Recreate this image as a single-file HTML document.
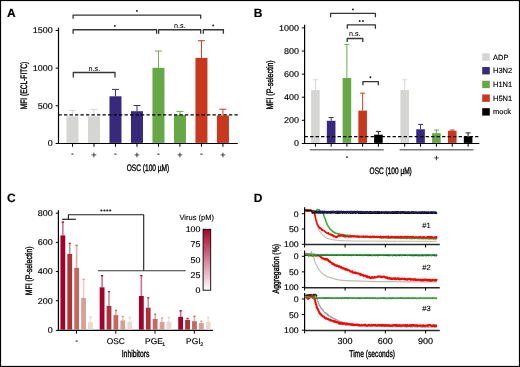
<!DOCTYPE html>
<html><head><meta charset="utf-8"><style>html,body{margin:0;padding:0;background:#fff;}svg{display:block;-webkit-font-smoothing:antialiased;will-change:transform;}text{font-family:"Liberation Sans", sans-serif;text-rendering:geometricPrecision;}</style></head><body>
<svg width="520" height="367" viewBox="0 0 520 367" font-family='"Liberation Sans", sans-serif'>
<defs><linearGradient id="vg" x1="0" y1="0" x2="0" y2="1"><stop offset="0" stop-color="#a8002d"/><stop offset="1" stop-color="#ffffff"/></linearGradient></defs>
<rect x="0" y="0" width="520" height="367" fill="#fff"/>
<text x="6.90" y="17.00" font-size="12.0" text-anchor="start" fill="#000" stroke="#000" stroke-width="0.15" font-weight="bold" >A</text>
<text x="253.70" y="17.00" font-size="12.0" text-anchor="start" fill="#000" stroke="#000" stroke-width="0.15" font-weight="bold" >B</text>
<text x="7.00" y="202.20" font-size="12.0" text-anchor="start" fill="#000" stroke="#000" stroke-width="0.15" font-weight="bold" >C</text>
<text x="253.80" y="202.20" font-size="12.0" text-anchor="start" fill="#000" stroke="#000" stroke-width="0.15" font-weight="bold" >D</text>
<line x1="58.50" y1="27.60" x2="58.50" y2="143.90" stroke="#000" stroke-width="1.2" />
<line x1="57.90" y1="143.50" x2="237.80" y2="143.50" stroke="#000" stroke-width="1.2" />
<line x1="55.60" y1="143.50" x2="58.50" y2="143.50" stroke="#000" stroke-width="1" />
<text x="52.70" y="146.40" font-size="8.4" text-anchor="end" fill="#000" stroke="#000" stroke-width="0.15" textLength="5.0" lengthAdjust="spacingAndGlyphs" >0</text>
<line x1="55.60" y1="105.77" x2="58.50" y2="105.77" stroke="#000" stroke-width="1" />
<text x="52.70" y="108.67" font-size="8.4" text-anchor="end" fill="#000" stroke="#000" stroke-width="0.15" textLength="14.99" lengthAdjust="spacingAndGlyphs" >500</text>
<line x1="55.60" y1="68.13" x2="58.50" y2="68.13" stroke="#000" stroke-width="1" />
<text x="52.70" y="71.03" font-size="8.4" text-anchor="end" fill="#000" stroke="#000" stroke-width="0.15" textLength="19.99" lengthAdjust="spacingAndGlyphs" >1000</text>
<line x1="55.60" y1="30.50" x2="58.50" y2="30.50" stroke="#000" stroke-width="1" />
<text x="52.70" y="33.40" font-size="8.4" text-anchor="end" fill="#000" stroke="#000" stroke-width="0.15" textLength="19.99" lengthAdjust="spacingAndGlyphs" >1500</text>
<line x1="72.50" y1="116.40" x2="72.50" y2="110.40" stroke="#d6d6d4" stroke-width="1" />
<line x1="69.00" y1="110.40" x2="76.00" y2="110.40" stroke="#d6d6d4" stroke-width="1" />
<rect x="66.50" y="116.40" width="12.00" height="26.50" fill="#d5d5d3"/>
<line x1="72.50" y1="143.50" x2="72.50" y2="146.80" stroke="#000" stroke-width="1" />
<text x="72.50" y="156.10" font-size="7.2" text-anchor="middle" fill="#000" stroke="#000" stroke-width="0.25" >-</text>
<line x1="93.99" y1="116.40" x2="93.99" y2="109.40" stroke="#d6d6d4" stroke-width="1" />
<line x1="90.49" y1="109.40" x2="97.49" y2="109.40" stroke="#d6d6d4" stroke-width="1" />
<rect x="87.99" y="116.40" width="12.00" height="26.50" fill="#d5d5d3"/>
<line x1="93.99" y1="143.50" x2="93.99" y2="146.80" stroke="#000" stroke-width="1" />
<text x="94.04" y="157.70" font-size="9.2" text-anchor="middle" fill="#000" stroke="#000" stroke-width="0.1" >+</text>
<line x1="115.48" y1="96.30" x2="115.48" y2="89.40" stroke="#3a2c82" stroke-width="1" />
<line x1="111.98" y1="89.40" x2="118.98" y2="89.40" stroke="#3a2c82" stroke-width="1" />
<rect x="109.48" y="96.30" width="12.00" height="46.60" fill="#38297c"/>
<line x1="115.48" y1="143.50" x2="115.48" y2="146.80" stroke="#000" stroke-width="1" />
<text x="115.48" y="156.10" font-size="7.2" text-anchor="middle" fill="#000" stroke="#000" stroke-width="0.25" >-</text>
<line x1="136.97" y1="111.20" x2="136.97" y2="105.50" stroke="#3a2c82" stroke-width="1" />
<line x1="133.47" y1="105.50" x2="140.47" y2="105.50" stroke="#3a2c82" stroke-width="1" />
<rect x="130.97" y="111.20" width="12.00" height="31.70" fill="#38297c"/>
<line x1="136.97" y1="143.50" x2="136.97" y2="146.80" stroke="#000" stroke-width="1" />
<text x="137.02" y="157.70" font-size="9.2" text-anchor="middle" fill="#000" stroke="#000" stroke-width="0.1" >+</text>
<line x1="158.46" y1="67.80" x2="158.46" y2="51.00" stroke="#6cad4e" stroke-width="1" />
<line x1="154.96" y1="51.00" x2="161.96" y2="51.00" stroke="#6cad4e" stroke-width="1" />
<rect x="152.46" y="67.80" width="12.00" height="75.10" fill="#66a746"/>
<line x1="158.46" y1="143.50" x2="158.46" y2="146.80" stroke="#000" stroke-width="1" />
<text x="158.46" y="156.10" font-size="7.2" text-anchor="middle" fill="#000" stroke="#000" stroke-width="0.25" >-</text>
<line x1="179.95" y1="115.00" x2="179.95" y2="111.40" stroke="#6cad4e" stroke-width="1" />
<line x1="176.45" y1="111.40" x2="183.45" y2="111.40" stroke="#6cad4e" stroke-width="1" />
<rect x="173.95" y="115.00" width="12.00" height="27.90" fill="#66a746"/>
<line x1="179.95" y1="143.50" x2="179.95" y2="146.80" stroke="#000" stroke-width="1" />
<text x="180.00" y="157.70" font-size="9.2" text-anchor="middle" fill="#000" stroke="#000" stroke-width="0.1" >+</text>
<line x1="201.44" y1="57.90" x2="201.44" y2="40.70" stroke="#cc3c22" stroke-width="1" />
<line x1="197.94" y1="40.70" x2="204.94" y2="40.70" stroke="#cc3c22" stroke-width="1" />
<rect x="195.44" y="57.90" width="12.00" height="85.00" fill="#c9381d"/>
<line x1="201.44" y1="143.50" x2="201.44" y2="146.80" stroke="#000" stroke-width="1" />
<text x="201.44" y="156.10" font-size="7.2" text-anchor="middle" fill="#000" stroke="#000" stroke-width="0.25" >-</text>
<line x1="222.93" y1="115.50" x2="222.93" y2="109.20" stroke="#cc3c22" stroke-width="1" />
<line x1="219.43" y1="109.20" x2="226.43" y2="109.20" stroke="#cc3c22" stroke-width="1" />
<rect x="216.93" y="115.50" width="12.00" height="27.40" fill="#c9381d"/>
<line x1="222.93" y1="143.50" x2="222.93" y2="146.80" stroke="#000" stroke-width="1" />
<text x="222.98" y="157.70" font-size="9.2" text-anchor="middle" fill="#000" stroke="#000" stroke-width="0.1" >+</text>
<line x1="58.50" y1="114.80" x2="237.80" y2="114.80" stroke="#000" stroke-width="1.2" stroke-dasharray="3.3 2.2"/>
<text x="148.00" y="170.70" font-size="9.4" text-anchor="middle" fill="#000" stroke="#000" stroke-width="0.38" textLength="42.6" lengthAdjust="spacingAndGlyphs" >OSC (100 µM)</text>
<text x="26.90" y="85.45" font-size="9.4" text-anchor="middle" fill="#000" stroke="#000" stroke-width="0.38" textLength="47.5" lengthAdjust="spacingAndGlyphs" transform="rotate(-90 26.90 85.45)" >MFI (ECL-FITC)</text>
<polyline points="73.30,77.50 73.30,72.50 115.00,72.50 115.00,77.50" fill="none" stroke="#353535" stroke-width="1.3" stroke-linejoin="round" />
<text x="94.40" y="70.90" font-size="7.2" text-anchor="middle" fill="#000" stroke="#000" stroke-width="0.05" >n.s.</text>
<polyline points="73.10,18.80 73.10,15.20 200.70,15.20 200.70,18.80" fill="none" stroke="#353535" stroke-width="1.3" stroke-linejoin="round" />
<circle cx="136.90" cy="10.90" r="0.95" fill="#1a1a1a"/>
<polyline points="73.10,33.65 73.10,29.75 156.60,29.75 156.60,33.65" fill="none" stroke="#353535" stroke-width="1.3" stroke-linejoin="round" />
<circle cx="114.80" cy="25.90" r="0.95" fill="#1a1a1a"/>
<polyline points="158.60,33.65 158.60,29.75 200.70,29.75 200.70,33.65" fill="none" stroke="#353535" stroke-width="1.3" stroke-linejoin="round" />
<text x="179.80" y="27.60" font-size="7.2" text-anchor="middle" fill="#000" stroke="#000" stroke-width="0.05" >n.s.</text>
<polyline points="203.30,33.65 203.30,29.75 223.40,29.75 223.40,33.65" fill="none" stroke="#353535" stroke-width="1.3" stroke-linejoin="round" />
<circle cx="213.20" cy="25.40" r="0.95" fill="#1a1a1a"/>
<line x1="304.60" y1="24.80" x2="304.60" y2="143.90" stroke="#000" stroke-width="1.2" />
<line x1="304.00" y1="143.50" x2="479.30" y2="143.50" stroke="#000" stroke-width="1.2" />
<line x1="301.80" y1="143.50" x2="304.60" y2="143.50" stroke="#000" stroke-width="1" />
<text x="299.00" y="146.40" font-size="8.4" text-anchor="end" fill="#000" stroke="#000" stroke-width="0.15" textLength="5.0" lengthAdjust="spacingAndGlyphs" >0</text>
<line x1="301.80" y1="120.30" x2="304.60" y2="120.30" stroke="#000" stroke-width="1" />
<text x="299.00" y="123.20" font-size="8.4" text-anchor="end" fill="#000" stroke="#000" stroke-width="0.15" textLength="14.99" lengthAdjust="spacingAndGlyphs" >200</text>
<line x1="301.80" y1="97.20" x2="304.60" y2="97.20" stroke="#000" stroke-width="1" />
<text x="299.00" y="100.10" font-size="8.4" text-anchor="end" fill="#000" stroke="#000" stroke-width="0.15" textLength="14.99" lengthAdjust="spacingAndGlyphs" >400</text>
<line x1="301.80" y1="74.10" x2="304.60" y2="74.10" stroke="#000" stroke-width="1" />
<text x="299.00" y="77.00" font-size="8.4" text-anchor="end" fill="#000" stroke="#000" stroke-width="0.15" textLength="14.99" lengthAdjust="spacingAndGlyphs" >600</text>
<line x1="301.80" y1="51.00" x2="304.60" y2="51.00" stroke="#000" stroke-width="1" />
<text x="299.00" y="53.90" font-size="8.4" text-anchor="end" fill="#000" stroke="#000" stroke-width="0.15" textLength="14.99" lengthAdjust="spacingAndGlyphs" >800</text>
<line x1="301.80" y1="27.90" x2="304.60" y2="27.90" stroke="#000" stroke-width="1" />
<text x="299.00" y="30.80" font-size="8.4" text-anchor="end" fill="#000" stroke="#000" stroke-width="0.15" textLength="19.99" lengthAdjust="spacingAndGlyphs" >1000</text>
<line x1="315.40" y1="90.20" x2="315.40" y2="79.80" stroke="#d6d6d4" stroke-width="1" />
<line x1="312.90" y1="79.80" x2="317.90" y2="79.80" stroke="#d6d6d4" stroke-width="1" />
<rect x="311.10" y="90.20" width="8.60" height="52.70" fill="#d5d5d3"/>
<line x1="315.40" y1="143.50" x2="315.40" y2="146.70" stroke="#000" stroke-width="1" />
<line x1="331.15" y1="120.80" x2="331.15" y2="117.50" stroke="#3a2c82" stroke-width="1" />
<line x1="328.65" y1="117.50" x2="333.65" y2="117.50" stroke="#3a2c82" stroke-width="1" />
<rect x="326.85" y="120.80" width="8.60" height="22.10" fill="#38297c"/>
<line x1="331.15" y1="143.50" x2="331.15" y2="146.70" stroke="#000" stroke-width="1" />
<line x1="346.90" y1="78.00" x2="346.90" y2="44.40" stroke="#6cad4e" stroke-width="1" />
<line x1="344.40" y1="44.40" x2="349.40" y2="44.40" stroke="#6cad4e" stroke-width="1" />
<rect x="342.60" y="78.00" width="8.60" height="64.90" fill="#66a746"/>
<line x1="346.90" y1="143.50" x2="346.90" y2="146.70" stroke="#000" stroke-width="1" />
<line x1="362.65" y1="110.60" x2="362.65" y2="93.20" stroke="#cc3c22" stroke-width="1" />
<line x1="360.15" y1="93.20" x2="365.15" y2="93.20" stroke="#cc3c22" stroke-width="1" />
<rect x="358.35" y="110.60" width="8.60" height="32.30" fill="#c9381d"/>
<line x1="362.65" y1="143.50" x2="362.65" y2="146.70" stroke="#000" stroke-width="1" />
<line x1="378.40" y1="134.70" x2="378.40" y2="131.40" stroke="#222" stroke-width="1" />
<line x1="375.90" y1="131.40" x2="380.90" y2="131.40" stroke="#222" stroke-width="1" />
<rect x="374.10" y="134.70" width="8.60" height="8.20" fill="#000"/>
<line x1="378.40" y1="143.50" x2="378.40" y2="146.70" stroke="#000" stroke-width="1" />
<line x1="404.70" y1="90.10" x2="404.70" y2="79.80" stroke="#d6d6d4" stroke-width="1" />
<line x1="402.20" y1="79.80" x2="407.20" y2="79.80" stroke="#d6d6d4" stroke-width="1" />
<rect x="400.40" y="90.10" width="8.60" height="52.80" fill="#d5d5d3"/>
<line x1="404.70" y1="143.50" x2="404.70" y2="146.70" stroke="#000" stroke-width="1" />
<line x1="420.55" y1="129.30" x2="420.55" y2="124.40" stroke="#3a2c82" stroke-width="1" />
<line x1="418.05" y1="124.40" x2="423.05" y2="124.40" stroke="#3a2c82" stroke-width="1" />
<rect x="416.25" y="129.30" width="8.60" height="13.60" fill="#38297c"/>
<line x1="420.55" y1="143.50" x2="420.55" y2="146.70" stroke="#000" stroke-width="1" />
<line x1="436.40" y1="133.20" x2="436.40" y2="130.00" stroke="#6cad4e" stroke-width="1" />
<line x1="433.90" y1="130.00" x2="438.90" y2="130.00" stroke="#6cad4e" stroke-width="1" />
<rect x="432.10" y="133.20" width="8.60" height="9.70" fill="#66a746"/>
<line x1="436.40" y1="143.50" x2="436.40" y2="146.70" stroke="#000" stroke-width="1" />
<line x1="452.25" y1="130.80" x2="452.25" y2="130.00" stroke="#cc3c22" stroke-width="1" />
<line x1="449.75" y1="130.00" x2="454.75" y2="130.00" stroke="#cc3c22" stroke-width="1" />
<rect x="447.95" y="130.80" width="8.60" height="12.10" fill="#c9381d"/>
<line x1="452.25" y1="143.50" x2="452.25" y2="146.70" stroke="#000" stroke-width="1" />
<line x1="468.10" y1="136.40" x2="468.10" y2="132.90" stroke="#222" stroke-width="1" />
<line x1="465.60" y1="132.90" x2="470.60" y2="132.90" stroke="#222" stroke-width="1" />
<rect x="463.80" y="136.40" width="8.60" height="6.50" fill="#000"/>
<line x1="468.10" y1="143.50" x2="468.10" y2="146.70" stroke="#000" stroke-width="1" />
<line x1="304.60" y1="136.60" x2="479.30" y2="136.60" stroke="#000" stroke-width="1.2" stroke-dasharray="3.3 2.2"/>
<line x1="309.80" y1="149.70" x2="383.80" y2="149.70" stroke="#7a7a7a" stroke-width="1.6" />
<line x1="399.60" y1="149.70" x2="473.50" y2="149.70" stroke="#7a7a7a" stroke-width="1.6" />
<text x="346.90" y="159.40" font-size="7.2" text-anchor="middle" fill="#000" stroke="#000" stroke-width="0.25" >-</text>
<text x="436.40" y="160.90" font-size="9.2" text-anchor="middle" fill="#000" stroke="#000" stroke-width="0.1" >+</text>
<text x="390.70" y="173.70" font-size="9.4" text-anchor="middle" fill="#000" stroke="#000" stroke-width="0.38" textLength="42.2" lengthAdjust="spacingAndGlyphs" >OSC (100 µM)</text>
<text x="273.50" y="84.95" font-size="9.4" text-anchor="middle" fill="#000" stroke="#000" stroke-width="0.38" textLength="49.3" lengthAdjust="spacingAndGlyphs" transform="rotate(-90 273.50 84.95)" >MFI (P-selectin)</text>
<polyline points="330.60,17.30 330.60,13.40 375.40,13.40 375.40,17.30" fill="none" stroke="#353535" stroke-width="1.3" stroke-linejoin="round" />
<circle cx="352.90" cy="9.40" r="0.95" fill="#1a1a1a"/>
<polyline points="347.30,28.70 347.30,24.90 375.40,24.90 375.40,28.70" fill="none" stroke="#353535" stroke-width="1.3" stroke-linejoin="round" />
<circle cx="359.70" cy="21.00" r="0.95" fill="#1a1a1a"/>
<circle cx="362.90" cy="21.00" r="0.95" fill="#1a1a1a"/>
<polyline points="347.20,42.00 347.20,38.50 362.80,38.50 362.80,42.00" fill="none" stroke="#353535" stroke-width="1.3" stroke-linejoin="round" />
<text x="354.70" y="36.40" font-size="7.2" text-anchor="middle" fill="#000" stroke="#000" stroke-width="0.05" >n.s.</text>
<polyline points="362.90,85.30 362.90,81.60 378.30,81.60 378.30,85.30" fill="none" stroke="#353535" stroke-width="1.3" stroke-linejoin="round" />
<circle cx="370.40" cy="77.20" r="0.95" fill="#1a1a1a"/>
<rect x="482.20" y="53.30" width="7.60" height="7.40" fill="#d5d5d3"/>
<text x="493.00" y="59.50" font-size="7.5" text-anchor="start" fill="#000" stroke="#000" stroke-width="0.15" >ADP</text>
<rect x="482.20" y="67.02" width="7.60" height="7.40" fill="#38297c"/>
<text x="493.00" y="73.22" font-size="7.5" text-anchor="start" fill="#000" stroke="#000" stroke-width="0.15" >H3N2</text>
<rect x="482.20" y="80.74" width="7.60" height="7.40" fill="#66a746"/>
<text x="493.00" y="86.94" font-size="7.5" text-anchor="start" fill="#000" stroke="#000" stroke-width="0.15" >H1N1</text>
<rect x="482.20" y="94.46" width="7.60" height="7.40" fill="#c9381d"/>
<text x="493.00" y="100.66" font-size="7.5" text-anchor="start" fill="#000" stroke="#000" stroke-width="0.15" >H5N1</text>
<rect x="482.20" y="108.18" width="7.60" height="7.40" fill="#000"/>
<text x="493.00" y="114.38" font-size="7.5" text-anchor="start" fill="#000" stroke="#000" stroke-width="0.15" >mock</text>
<line x1="58.40" y1="210.30" x2="58.40" y2="330.60" stroke="#000" stroke-width="1.2" />
<line x1="57.80" y1="330.45" x2="212.90" y2="330.45" stroke="#000" stroke-width="1.2" />
<line x1="55.80" y1="330.45" x2="58.40" y2="330.45" stroke="#000" stroke-width="1" />
<text x="52.70" y="333.35" font-size="8.4" text-anchor="end" fill="#000" stroke="#000" stroke-width="0.15" textLength="5.0" lengthAdjust="spacingAndGlyphs" >0</text>
<line x1="55.80" y1="300.72" x2="58.40" y2="300.72" stroke="#000" stroke-width="1" />
<text x="52.70" y="303.62" font-size="8.4" text-anchor="end" fill="#000" stroke="#000" stroke-width="0.15" textLength="14.99" lengthAdjust="spacingAndGlyphs" >200</text>
<line x1="55.80" y1="271.55" x2="58.40" y2="271.55" stroke="#000" stroke-width="1" />
<text x="52.70" y="274.45" font-size="8.4" text-anchor="end" fill="#000" stroke="#000" stroke-width="0.15" textLength="14.99" lengthAdjust="spacingAndGlyphs" >400</text>
<line x1="55.80" y1="242.37" x2="58.40" y2="242.37" stroke="#000" stroke-width="1" />
<text x="52.70" y="245.27" font-size="8.4" text-anchor="end" fill="#000" stroke="#000" stroke-width="0.15" textLength="14.99" lengthAdjust="spacingAndGlyphs" >600</text>
<line x1="55.80" y1="213.20" x2="58.40" y2="213.20" stroke="#000" stroke-width="1" />
<text x="52.70" y="216.10" font-size="8.4" text-anchor="end" fill="#000" stroke="#000" stroke-width="0.15" textLength="14.99" lengthAdjust="spacingAndGlyphs" >800</text>
<line x1="62.85" y1="235.40" x2="62.85" y2="222.10" stroke="#a3002a" stroke-width="1.6" stroke-opacity="0.55"/>
<line x1="61.75" y1="222.10" x2="63.95" y2="222.10" stroke="#a3002a" stroke-width="1.3" />
<rect x="60.45" y="235.40" width="4.80" height="94.30" fill="#a3002a"/>
<line x1="69.75" y1="253.90" x2="69.75" y2="243.30" stroke="#ab3338" stroke-width="1.6" stroke-opacity="0.55"/>
<line x1="68.65" y1="243.30" x2="70.85" y2="243.30" stroke="#ab3338" stroke-width="1.3" />
<rect x="67.35" y="253.90" width="4.80" height="75.80" fill="#ab3338"/>
<line x1="76.65" y1="267.80" x2="76.65" y2="245.30" stroke="#c06a62" stroke-width="1.6" stroke-opacity="0.55"/>
<line x1="75.55" y1="245.30" x2="77.75" y2="245.30" stroke="#c06a62" stroke-width="1.3" />
<rect x="74.25" y="267.80" width="4.80" height="61.90" fill="#c06a62"/>
<line x1="83.55" y1="298.00" x2="83.55" y2="279.30" stroke="#d5a096" stroke-width="1.6" stroke-opacity="0.55"/>
<line x1="82.45" y1="279.30" x2="84.65" y2="279.30" stroke="#d5a096" stroke-width="1.3" />
<rect x="81.15" y="298.00" width="4.80" height="31.70" fill="#d5a096"/>
<line x1="90.45" y1="322.20" x2="90.45" y2="317.20" stroke="#e6ccc5" stroke-width="1.6" stroke-opacity="0.55"/>
<line x1="89.35" y1="317.20" x2="91.55" y2="317.20" stroke="#e6ccc5" stroke-width="1.3" />
<rect x="88.05" y="322.20" width="4.80" height="7.50" fill="#ecd8d2"/>
<line x1="76.50" y1="330.45" x2="76.50" y2="333.60" stroke="#000" stroke-width="1" />
<line x1="102.10" y1="287.30" x2="102.10" y2="275.70" stroke="#a3002a" stroke-width="1.6" stroke-opacity="0.55"/>
<line x1="101.00" y1="275.70" x2="103.20" y2="275.70" stroke="#a3002a" stroke-width="1.3" />
<rect x="99.70" y="287.30" width="4.80" height="42.40" fill="#a3002a"/>
<line x1="109.00" y1="305.90" x2="109.00" y2="291.60" stroke="#ab3338" stroke-width="1.6" stroke-opacity="0.55"/>
<line x1="107.90" y1="291.60" x2="110.10" y2="291.60" stroke="#ab3338" stroke-width="1.3" />
<rect x="106.60" y="305.90" width="4.80" height="23.80" fill="#ab3338"/>
<line x1="115.90" y1="315.10" x2="115.90" y2="310.40" stroke="#c06a62" stroke-width="1.6" stroke-opacity="0.55"/>
<line x1="114.80" y1="310.40" x2="117.00" y2="310.40" stroke="#c06a62" stroke-width="1.3" />
<rect x="113.50" y="315.10" width="4.80" height="14.60" fill="#c06a62"/>
<line x1="122.80" y1="320.40" x2="122.80" y2="316.40" stroke="#d5a096" stroke-width="1.6" stroke-opacity="0.55"/>
<line x1="121.70" y1="316.40" x2="123.90" y2="316.40" stroke="#d5a096" stroke-width="1.3" />
<rect x="120.40" y="320.40" width="4.80" height="9.30" fill="#d5a096"/>
<line x1="129.70" y1="321.90" x2="129.70" y2="317.40" stroke="#e6ccc5" stroke-width="1.6" stroke-opacity="0.55"/>
<line x1="128.60" y1="317.40" x2="130.80" y2="317.40" stroke="#e6ccc5" stroke-width="1.3" />
<rect x="127.30" y="321.90" width="4.80" height="7.80" fill="#ecd8d2"/>
<line x1="115.75" y1="330.45" x2="115.75" y2="333.60" stroke="#000" stroke-width="1" />
<line x1="141.35" y1="296.00" x2="141.35" y2="275.70" stroke="#a3002a" stroke-width="1.6" stroke-opacity="0.55"/>
<line x1="140.25" y1="275.70" x2="142.45" y2="275.70" stroke="#a3002a" stroke-width="1.3" />
<rect x="138.95" y="296.00" width="4.80" height="33.70" fill="#a3002a"/>
<line x1="148.25" y1="307.70" x2="148.25" y2="297.80" stroke="#ab3338" stroke-width="1.6" stroke-opacity="0.55"/>
<line x1="147.15" y1="297.80" x2="149.35" y2="297.80" stroke="#ab3338" stroke-width="1.3" />
<rect x="145.85" y="307.70" width="4.80" height="22.00" fill="#ab3338"/>
<line x1="155.15" y1="319.00" x2="155.15" y2="314.20" stroke="#c06a62" stroke-width="1.6" stroke-opacity="0.55"/>
<line x1="154.05" y1="314.20" x2="156.25" y2="314.20" stroke="#c06a62" stroke-width="1.3" />
<rect x="152.75" y="319.00" width="4.80" height="10.70" fill="#c06a62"/>
<line x1="162.05" y1="321.90" x2="162.05" y2="318.10" stroke="#d5a096" stroke-width="1.6" stroke-opacity="0.55"/>
<line x1="160.95" y1="318.10" x2="163.15" y2="318.10" stroke="#d5a096" stroke-width="1.3" />
<rect x="159.65" y="321.90" width="4.80" height="7.80" fill="#d5a096"/>
<line x1="168.95" y1="321.90" x2="168.95" y2="317.40" stroke="#e6ccc5" stroke-width="1.6" stroke-opacity="0.55"/>
<line x1="167.85" y1="317.40" x2="170.05" y2="317.40" stroke="#e6ccc5" stroke-width="1.3" />
<rect x="166.55" y="321.90" width="4.80" height="7.80" fill="#ecd8d2"/>
<line x1="155.00" y1="330.45" x2="155.00" y2="333.60" stroke="#000" stroke-width="1" />
<line x1="180.65" y1="316.80" x2="180.65" y2="310.80" stroke="#a3002a" stroke-width="1.6" stroke-opacity="0.55"/>
<line x1="179.55" y1="310.80" x2="181.75" y2="310.80" stroke="#a3002a" stroke-width="1.3" />
<rect x="178.25" y="316.80" width="4.80" height="12.90" fill="#a3002a"/>
<line x1="187.55" y1="319.90" x2="187.55" y2="318.40" stroke="#ab3338" stroke-width="1.6" stroke-opacity="0.55"/>
<line x1="186.45" y1="318.40" x2="188.65" y2="318.40" stroke="#ab3338" stroke-width="1.3" />
<rect x="185.15" y="319.90" width="4.80" height="9.80" fill="#ab3338"/>
<line x1="194.45" y1="321.20" x2="194.45" y2="316.30" stroke="#c06a62" stroke-width="1.6" stroke-opacity="0.55"/>
<line x1="193.35" y1="316.30" x2="195.55" y2="316.30" stroke="#c06a62" stroke-width="1.3" />
<rect x="192.05" y="321.20" width="4.80" height="8.50" fill="#c06a62"/>
<line x1="201.35" y1="323.00" x2="201.35" y2="321.20" stroke="#d5a096" stroke-width="1.6" stroke-opacity="0.55"/>
<line x1="200.25" y1="321.20" x2="202.45" y2="321.20" stroke="#d5a096" stroke-width="1.3" />
<rect x="198.95" y="323.00" width="4.80" height="6.70" fill="#d5a096"/>
<line x1="208.25" y1="322.00" x2="208.25" y2="317.30" stroke="#e6ccc5" stroke-width="1.6" stroke-opacity="0.55"/>
<line x1="207.15" y1="317.30" x2="209.35" y2="317.30" stroke="#e6ccc5" stroke-width="1.3" />
<rect x="205.85" y="322.00" width="4.80" height="7.70" fill="#ecd8d2"/>
<line x1="194.30" y1="330.45" x2="194.30" y2="333.60" stroke="#000" stroke-width="1" />
<text x="76.60" y="343.20" font-size="7.2" text-anchor="middle" fill="#000" stroke="#000" stroke-width="0.25" >-</text>
<text x="115.75" y="344.00" font-size="8.4" text-anchor="middle" fill="#000" stroke="#000" stroke-width="0.15" >OSC</text>
<text x="153.90" y="344.00" font-size="8.4" text-anchor="middle" fill="#000" stroke="#000" stroke-width="0.15" >PGE</text>
<text x="163.60" y="345.70" font-size="5.2" text-anchor="middle" fill="#000" stroke="#000" stroke-width="0.15" >1</text>
<text x="193.30" y="344.00" font-size="8.4" text-anchor="middle" fill="#000" stroke="#000" stroke-width="0.15" >PGI</text>
<text x="201.60" y="345.60" font-size="5.2" text-anchor="middle" fill="#000" stroke="#000" stroke-width="0.15" >2</text>
<text x="135.60" y="357.30" font-size="9.8" text-anchor="middle" fill="#000" stroke="#000" stroke-width="0.38" textLength="27.8" lengthAdjust="spacingAndGlyphs" >Inhibitors</text>
<text x="31.80" y="270.85" font-size="9.4" text-anchor="middle" fill="#000" stroke="#000" stroke-width="0.38" textLength="48.8" lengthAdjust="spacingAndGlyphs" transform="rotate(-90 31.80 270.85)" >MFI (P-selectin)</text>
<line x1="62.20" y1="219.30" x2="75.80" y2="219.30" stroke="#1e1e1e" stroke-width="1.2" />
<polyline points="68.40,219.00 68.40,214.70 143.70,214.70 143.70,270.80" fill="none" stroke="#1e1e1e" stroke-width="1.1" stroke-linejoin="round" />
<line x1="97.90" y1="270.80" x2="185.70" y2="270.80" stroke="#333" stroke-width="1.1" />
<circle cx="101.40" cy="210.50" r="1.1" fill="#1a1a1a"/>
<circle cx="104.40" cy="210.50" r="1.1" fill="#1a1a1a"/>
<circle cx="107.30" cy="210.50" r="1.1" fill="#1a1a1a"/>
<circle cx="110.20" cy="210.50" r="1.1" fill="#1a1a1a"/>
<rect x="203.10" y="229.30" width="7.60" height="60.90" fill="url(#vg)" stroke="#000" stroke-width="0.9"/>
<text x="200.50" y="232.30" font-size="8.3" text-anchor="end" fill="#000" stroke="#000" stroke-width="0.15" textLength="14.81" lengthAdjust="spacingAndGlyphs" >100</text>
<text x="200.50" y="247.20" font-size="8.3" text-anchor="end" fill="#000" stroke="#000" stroke-width="0.15" textLength="9.88" lengthAdjust="spacingAndGlyphs" >75</text>
<text x="200.50" y="262.60" font-size="8.3" text-anchor="end" fill="#000" stroke="#000" stroke-width="0.15" textLength="9.88" lengthAdjust="spacingAndGlyphs" >50</text>
<text x="200.50" y="278.00" font-size="8.3" text-anchor="end" fill="#000" stroke="#000" stroke-width="0.15" textLength="9.88" lengthAdjust="spacingAndGlyphs" >25</text>
<text x="200.50" y="293.10" font-size="8.3" text-anchor="end" fill="#000" stroke="#000" stroke-width="0.15" textLength="4.94" lengthAdjust="spacingAndGlyphs" >0</text>
<text x="196.70" y="219.70" font-size="7.6" text-anchor="middle" fill="#000" stroke="#000" stroke-width="0.12" textLength="34.6" lengthAdjust="spacingAndGlyphs" >Virus (pM)</text>
<line x1="304.60" y1="207.30" x2="304.60" y2="244.70" stroke="#000" stroke-width="1.2" />
<line x1="304.00" y1="244.60" x2="439.80" y2="244.60" stroke="#2a2a2a" stroke-width="1.5" />
<line x1="304.60" y1="244.30" x2="304.60" y2="247.50" stroke="#000" stroke-width="1" />
<line x1="345.10" y1="244.30" x2="345.10" y2="247.50" stroke="#000" stroke-width="1" />
<line x1="385.35" y1="244.30" x2="385.35" y2="247.50" stroke="#000" stroke-width="1" />
<line x1="425.60" y1="244.30" x2="425.60" y2="247.50" stroke="#000" stroke-width="1" />
<line x1="301.80" y1="213.70" x2="304.60" y2="213.70" stroke="#000" stroke-width="1" />
<text x="298.70" y="216.60" font-size="8.2" text-anchor="end" fill="#000" stroke="#000" stroke-width="0.15" textLength="4.88" lengthAdjust="spacingAndGlyphs" >0</text>
<line x1="301.80" y1="229.00" x2="304.60" y2="229.00" stroke="#000" stroke-width="1" />
<text x="298.70" y="231.90" font-size="8.2" text-anchor="end" fill="#000" stroke="#000" stroke-width="0.15" textLength="9.76" lengthAdjust="spacingAndGlyphs" >50</text>
<line x1="301.80" y1="244.30" x2="304.60" y2="244.30" stroke="#000" stroke-width="1" />
<text x="298.70" y="247.20" font-size="8.2" text-anchor="end" fill="#000" stroke="#000" stroke-width="0.15" textLength="14.64" lengthAdjust="spacingAndGlyphs" >100</text>
<text x="426.60" y="227.80" font-size="7.6" text-anchor="middle" fill="#000" stroke="#000" stroke-width="0.1" >#1</text>
<line x1="304.60" y1="250.60" x2="304.60" y2="287.80" stroke="#000" stroke-width="1.2" />
<line x1="304.00" y1="287.70" x2="439.80" y2="287.70" stroke="#2a2a2a" stroke-width="1.5" />
<line x1="304.60" y1="287.40" x2="304.60" y2="290.60" stroke="#000" stroke-width="1" />
<line x1="345.10" y1="287.40" x2="345.10" y2="290.60" stroke="#000" stroke-width="1" />
<line x1="385.35" y1="287.40" x2="385.35" y2="290.60" stroke="#000" stroke-width="1" />
<line x1="425.60" y1="287.40" x2="425.60" y2="290.60" stroke="#000" stroke-width="1" />
<line x1="301.80" y1="256.30" x2="304.60" y2="256.30" stroke="#000" stroke-width="1" />
<text x="298.70" y="259.20" font-size="8.2" text-anchor="end" fill="#000" stroke="#000" stroke-width="0.15" textLength="4.88" lengthAdjust="spacingAndGlyphs" >0</text>
<line x1="301.80" y1="271.85" x2="304.60" y2="271.85" stroke="#000" stroke-width="1" />
<text x="298.70" y="274.75" font-size="8.2" text-anchor="end" fill="#000" stroke="#000" stroke-width="0.15" textLength="9.76" lengthAdjust="spacingAndGlyphs" >50</text>
<line x1="301.80" y1="287.40" x2="304.60" y2="287.40" stroke="#000" stroke-width="1" />
<text x="298.70" y="290.30" font-size="8.2" text-anchor="end" fill="#000" stroke="#000" stroke-width="0.15" textLength="14.64" lengthAdjust="spacingAndGlyphs" >100</text>
<text x="426.60" y="270.20" font-size="7.6" text-anchor="middle" fill="#000" stroke="#000" stroke-width="0.1" >#2</text>
<line x1="304.60" y1="292.90" x2="304.60" y2="330.60" stroke="#000" stroke-width="1.2" />
<line x1="304.00" y1="330.50" x2="439.80" y2="330.50" stroke="#2a2a2a" stroke-width="1.5" />
<line x1="304.60" y1="330.20" x2="304.60" y2="333.40" stroke="#000" stroke-width="1" />
<line x1="345.10" y1="330.20" x2="345.10" y2="333.40" stroke="#000" stroke-width="1" />
<line x1="385.35" y1="330.20" x2="385.35" y2="333.40" stroke="#000" stroke-width="1" />
<line x1="425.60" y1="330.20" x2="425.60" y2="333.40" stroke="#000" stroke-width="1" />
<line x1="301.80" y1="299.00" x2="304.60" y2="299.00" stroke="#000" stroke-width="1" />
<text x="298.70" y="301.90" font-size="8.2" text-anchor="end" fill="#000" stroke="#000" stroke-width="0.15" textLength="4.88" lengthAdjust="spacingAndGlyphs" >0</text>
<line x1="301.80" y1="314.60" x2="304.60" y2="314.60" stroke="#000" stroke-width="1" />
<text x="298.70" y="317.50" font-size="8.2" text-anchor="end" fill="#000" stroke="#000" stroke-width="0.15" textLength="9.76" lengthAdjust="spacingAndGlyphs" >50</text>
<line x1="301.80" y1="330.20" x2="304.60" y2="330.20" stroke="#000" stroke-width="1" />
<text x="298.70" y="333.10" font-size="8.2" text-anchor="end" fill="#000" stroke="#000" stroke-width="0.15" textLength="14.64" lengthAdjust="spacingAndGlyphs" >100</text>
<text x="426.60" y="311.00" font-size="7.6" text-anchor="middle" fill="#000" stroke="#000" stroke-width="0.1" >#3</text>
<text x="345.10" y="344.00" font-size="8.7" text-anchor="middle" fill="#000" stroke="#000" stroke-width="0.15" textLength="15.09" lengthAdjust="spacingAndGlyphs" >300</text>
<text x="385.35" y="344.00" font-size="8.7" text-anchor="middle" fill="#000" stroke="#000" stroke-width="0.15" textLength="15.09" lengthAdjust="spacingAndGlyphs" >600</text>
<text x="425.60" y="344.00" font-size="8.7" text-anchor="middle" fill="#000" stroke="#000" stroke-width="0.15" textLength="15.09" lengthAdjust="spacingAndGlyphs" >900</text>
<text x="372.20" y="357.20" font-size="9.8" text-anchor="middle" fill="#000" stroke="#000" stroke-width="0.38" textLength="45.8" lengthAdjust="spacingAndGlyphs" >Time (seconds)</text>
<text x="278.80" y="268.70" font-size="9.4" text-anchor="middle" fill="#000" stroke="#000" stroke-width="0.38" textLength="49.4" lengthAdjust="spacingAndGlyphs" transform="rotate(-90 278.80 268.70)" >Aggregation (%)</text>
<polyline points="305.00,210.91 305.41,211.08 305.82,211.06 306.23,210.94 306.64,211.00 307.05,210.99 307.46,211.04 307.87,211.07 308.28,210.90 308.69,210.89 309.10,211.08 309.51,210.98 309.92,211.06 310.33,210.88 310.74,210.99 311.15,211.05 311.56,210.93 311.97,211.11 312.38,211.10 312.79,210.89 313.20,210.89 313.63,211.71 314.07,213.39 314.50,214.97 314.90,216.51 315.30,218.35 315.70,220.11 316.10,221.92 316.50,223.49 316.90,224.79 317.30,225.92 317.70,227.02 318.10,228.03 318.50,228.99 318.90,229.77 319.30,230.47 319.70,231.37 320.10,231.94 320.50,232.53 320.94,233.01 321.38,233.77 321.81,234.26 322.25,234.59 322.69,235.10 323.12,235.62 323.56,236.01 324.00,236.40 324.40,236.57 324.80,236.94 325.20,237.16 325.60,237.32 326.00,237.62 326.40,237.91 326.80,238.10 327.20,238.19 327.60,238.38 328.00,238.39 328.40,238.57 328.80,238.83 329.20,238.86 329.60,238.91 330.00,239.11 330.40,239.25 330.80,239.34 331.20,239.36 331.60,239.46 332.00,239.56 332.40,239.70 332.80,239.72 333.20,239.75 333.60,239.84 334.00,239.79 334.41,239.85 334.82,240.06 335.24,240.18 335.65,240.14 336.06,240.15 336.47,240.14 336.88,240.27 337.29,240.43 337.71,240.42 338.12,240.40 338.53,240.52 338.94,240.40 339.35,240.50 339.76,240.64 340.18,240.57 340.59,240.57 341.00,240.54 341.40,240.63 341.81,240.75 342.21,240.54 342.62,240.74 343.02,240.77 343.43,240.80 343.83,240.78 344.23,240.81 344.64,240.76 345.04,240.78 345.45,240.76 345.85,240.69 346.26,240.90 346.66,240.84 347.06,240.77 347.47,240.85 347.87,240.86 348.28,240.84 348.68,240.85 349.09,240.91 349.49,240.94 349.89,240.95 350.30,240.92 350.70,240.83 351.11,240.89 351.51,240.89 351.91,240.99 352.32,241.07 352.72,241.06 353.13,241.07 353.53,241.09 353.94,240.96 354.34,241.11 354.74,241.07 355.15,240.94 355.55,240.93 355.96,240.94 356.36,241.12 356.77,241.00 357.17,240.98 357.57,241.11 357.98,241.04 358.38,240.98 358.79,241.01 359.19,241.10 359.60,241.02 360.00,241.05 360.40,241.15 360.80,241.10 361.20,241.07 361.60,241.11 362.01,241.00 362.41,241.09 362.81,241.10 363.21,241.05 363.61,241.03 364.01,241.23 364.41,241.14 364.81,241.07 365.21,241.16 365.61,241.22 366.02,241.03 366.42,241.03 366.82,241.06 367.22,241.20 367.62,241.07 368.02,241.21 368.42,241.20 368.82,241.17 369.22,241.10 369.62,241.28 370.03,241.24 370.43,241.18 370.83,241.11 371.23,241.21 371.63,241.15 372.03,241.20 372.43,241.14 372.83,241.22 373.23,241.08 373.64,241.14 374.04,241.31 374.44,241.29 374.84,241.15 375.24,241.29 375.64,241.16 376.04,241.31 376.44,241.26 376.84,241.19 377.24,241.15 377.65,241.09 378.05,241.30 378.45,241.10 378.85,241.29 379.25,241.33 379.65,241.24 380.05,241.14 380.45,241.31 380.85,241.34 381.26,241.28 381.66,241.23 382.06,241.20 382.46,241.20 382.86,241.16 383.26,241.28 383.66,241.22 384.06,241.17 384.46,241.15 384.86,241.28 385.27,241.20 385.67,241.25 386.07,241.21 386.47,241.34 386.87,241.35 387.27,241.14 387.67,241.18 388.07,241.21 388.47,241.37 388.88,241.33 389.28,241.22 389.68,241.19 390.08,241.30 390.48,241.35 390.88,241.37 391.28,241.23 391.68,241.36 392.08,241.31 392.48,241.27 392.89,241.39 393.29,241.21 393.69,241.33 394.09,241.18 394.49,241.20 394.89,241.38 395.29,241.21 395.69,241.34 396.09,241.31 396.49,241.37 396.90,241.25 397.30,241.25 397.70,241.24 398.10,241.38 398.50,241.31 398.90,241.40 399.30,241.38 399.70,241.21 400.10,241.31 400.51,241.20 400.91,241.19 401.31,241.19 401.71,241.39 402.11,241.37 402.51,241.38 402.91,241.26 403.31,241.33 403.71,241.37 404.11,241.28 404.52,241.32 404.92,241.24 405.32,241.21 405.72,241.25 406.12,241.40 406.52,241.33 406.92,241.41 407.32,241.30 407.72,241.26 408.12,241.38 408.53,241.39 408.93,241.20 409.33,241.36 409.73,241.22 410.13,241.23 410.53,241.41 410.93,241.21 411.33,241.26 411.73,241.44 412.14,241.31 412.54,241.23 412.94,241.25 413.34,241.27 413.74,241.39 414.14,241.24 414.54,241.43 414.94,241.30 415.34,241.45 415.74,241.43 416.15,241.29 416.55,241.28 416.95,241.33 417.35,241.24 417.75,241.38 418.15,241.23 418.55,241.22 418.95,241.46 419.35,241.29 419.76,241.37 420.16,241.33 420.56,241.30 420.96,241.24 421.36,241.45 421.76,241.46 422.16,241.46 422.56,241.26 422.96,241.29 423.36,241.38 423.77,241.47 424.17,241.37 424.57,241.40 424.97,241.40 425.37,241.30 425.77,241.37 426.17,241.32 426.57,241.30 426.97,241.27 427.38,241.31 427.78,241.48 428.18,241.36 428.58,241.41 428.98,241.41 429.38,241.48 429.78,241.35 430.18,241.33 430.58,241.34 430.98,241.33 431.39,241.46 431.79,241.48 432.19,241.34 432.59,241.34 432.99,241.40 433.39,241.41 433.79,241.41 434.19,241.33 434.59,241.28 434.99,241.33 435.40,241.29 435.80,241.41 436.20,241.29 436.60,241.30 437.00,241.43" fill="none" stroke="#c4c4bf" stroke-width="1.2" stroke-linejoin="round" />
<polyline points="305.00,211.32 305.41,211.31 305.81,210.68 306.22,210.69 306.63,211.21 307.04,211.14 307.44,211.09 307.85,210.83 308.26,211.03 308.67,211.03 309.07,211.01 309.48,210.71 309.89,210.89 310.30,210.86 310.70,211.09 311.11,211.27 311.52,211.24 311.93,210.95 312.33,210.87 312.74,210.74 313.15,210.57 313.56,210.55 313.96,210.85 314.37,210.73 314.78,210.76 315.19,211.11 315.59,210.84 316.00,210.84 316.42,210.50 316.83,210.09 317.25,209.96 317.67,209.50 318.08,209.51 318.50,209.75 318.90,209.66 319.30,209.65 319.70,210.60 320.10,211.01 320.50,211.36 320.96,211.83 321.42,212.03 321.88,212.36 322.34,212.42 322.80,213.34 323.24,214.05 323.68,214.54 324.12,216.19 324.56,217.44 325.00,218.47 325.46,219.75 325.92,221.02 326.38,222.61 326.84,223.50 327.30,224.73 327.75,225.23 328.20,226.36 328.65,227.07 329.10,227.40 329.55,228.08 330.00,228.89 330.45,229.31 330.90,229.67 331.35,229.99 331.80,230.53 332.25,231.20 332.70,231.17 333.11,231.96 333.52,231.76 333.93,232.45 334.34,232.25 334.75,232.90 335.16,232.92 335.57,232.95 335.98,233.13 336.39,233.37 336.80,233.46 337.22,233.40 337.64,233.45 338.06,233.77 338.48,234.17 338.90,234.06 339.32,233.77 339.74,234.38 340.16,234.40 340.58,234.61 341.00,234.18 341.42,234.65 341.84,234.24 342.26,234.73 342.68,234.53 343.09,234.57 343.51,235.09 343.93,234.61 344.35,234.96 344.77,235.25 345.19,234.89 345.61,234.92 346.02,235.45 346.44,235.18 346.86,235.44 347.28,235.02 347.70,235.30 348.11,235.22 348.52,235.63 348.93,235.27 349.34,235.94 349.75,235.34 350.16,235.89 350.57,235.45 350.98,235.67 351.39,236.11 351.80,235.71 352.21,235.78 352.62,236.19 353.03,236.03 353.44,235.84 353.85,236.56 354.26,236.02 354.67,235.99 355.08,236.25 355.49,236.49 355.90,236.62 356.31,236.23 356.72,236.43 357.13,236.25 357.54,236.58 357.95,236.84 358.36,236.86 358.77,237.00 359.18,236.93 359.59,237.03 360.00,236.94 360.40,236.80 360.80,236.65 361.20,236.98 361.60,236.76 362.00,236.63 362.40,236.89 362.80,237.21 363.20,236.71 363.60,237.05 364.00,236.94 364.40,237.04 364.80,236.80 365.20,237.39 365.60,236.92 366.00,237.18 366.40,237.07 366.80,236.80 367.20,237.20 367.60,236.93 368.00,236.88 368.40,236.89 368.80,236.99 369.20,236.96 369.60,237.36 370.00,237.28 370.40,237.63 370.80,237.61 371.20,237.67 371.60,237.15 372.00,237.32 372.40,237.20 372.80,237.45 373.20,237.49 373.60,237.63 374.00,237.58 374.40,237.27 374.80,237.40 375.20,237.49 375.60,237.14 376.00,237.17 376.40,237.45 376.80,237.25 377.20,237.69 377.60,237.37 378.00,237.28 378.40,237.35 378.80,237.40 379.20,237.40 379.60,237.63 380.00,237.60 380.40,237.50 380.80,237.75 381.20,237.46 381.60,237.95 382.00,238.00 382.40,237.85 382.80,237.66 383.20,237.72 383.60,237.78 384.00,237.42 384.40,237.69 384.80,237.77 385.20,237.54 385.60,237.49 386.00,238.00 386.40,237.70 386.80,237.82 387.20,238.11 387.60,237.90 388.00,237.69 388.40,238.18 388.80,237.76 389.20,237.53 389.60,238.00 390.00,237.60 390.40,237.75 390.80,238.14 391.20,238.03 391.60,237.58 392.00,237.89 392.40,237.87 392.80,237.93 393.20,237.75 393.60,238.02 394.00,237.67 394.40,237.83 394.80,237.90 395.20,238.30 395.60,237.71 396.00,238.19 396.40,237.81 396.80,238.08 397.20,237.96 397.60,238.02 398.00,238.23 398.40,237.99 398.80,237.81 399.20,237.82 399.60,237.80 400.00,238.35 400.40,238.21 400.80,238.44 401.21,238.26 401.61,237.80 402.01,238.25 402.41,238.34 402.82,238.31 403.22,238.17 403.62,238.07 404.02,238.15 404.42,238.40 404.83,238.04 405.23,238.22 405.63,238.20 406.03,238.54 406.43,238.44 406.84,238.54 407.24,238.48 407.64,238.11 408.04,238.07 408.45,238.26 408.85,238.10 409.25,238.23 409.65,238.41 410.05,238.58 410.46,238.36 410.86,238.53 411.26,238.03 411.66,238.22 412.07,238.67 412.47,238.08 412.87,238.28 413.27,238.04 413.67,238.06 414.08,238.63 414.48,238.71 414.88,238.47 415.28,238.12 415.68,238.24 416.09,238.20 416.49,238.51 416.89,238.53 417.29,238.36 417.70,238.43 418.10,238.15 418.50,238.45 418.90,238.75 419.30,238.62 419.71,238.16 420.11,238.46 420.51,238.61 420.91,238.29 421.32,238.74 421.72,238.44 422.12,238.62 422.52,238.42 422.92,238.84 423.33,238.69 423.73,238.55 424.13,238.26 424.53,238.47 424.93,238.19 425.34,238.59 425.74,238.80 426.14,238.31 426.54,238.55 426.95,238.54 427.35,238.49 427.75,238.71 428.15,238.87 428.55,238.71 428.96,238.56 429.36,238.91 429.76,238.47 430.16,238.77 430.57,238.71 430.97,238.79 431.37,238.86 431.77,238.43 432.17,238.71 432.58,238.56 432.98,238.75 433.38,238.98 433.78,238.74 434.18,238.31 434.59,238.64 434.99,238.82 435.39,238.94 435.79,238.79 436.20,238.91 436.60,238.36 437.00,239.01" fill="none" stroke="#36a636" stroke-width="1.5" stroke-linejoin="round" />
<polyline points="305.00,210.29 305.41,210.65 305.81,210.44 306.22,210.72 306.62,210.75 307.03,210.08 307.44,210.02 307.84,211.00 308.25,210.31 308.66,210.28 309.06,211.19 309.47,210.56 309.88,211.00 310.28,210.57 310.69,210.77 311.09,210.18 311.50,210.76 311.90,211.09 312.30,210.81 312.70,211.30 313.10,211.52 313.50,211.18 313.90,212.48 314.30,212.81 314.85,214.48 315.40,216.84 315.90,219.70 316.40,220.96 316.90,222.76 317.30,224.04 317.70,224.87 318.10,226.01 318.50,226.07 318.94,227.16 319.39,227.27 319.83,228.32 320.27,228.67 320.71,228.11 321.16,228.52 321.60,228.96 322.01,230.17 322.42,229.83 322.83,230.34 323.24,230.22 323.65,230.72 324.06,230.82 324.47,231.02 324.88,231.54 325.29,231.77 325.70,232.39 326.13,232.36 326.57,232.89 327.00,233.03 327.43,233.41 327.87,233.24 328.30,232.84 328.73,233.89 329.17,234.22 329.60,234.36 330.03,234.16 330.47,234.55 330.90,234.15 331.30,235.10 331.70,235.01 332.10,234.88 332.50,234.84 332.90,236.02 333.30,236.41 333.70,235.55 334.10,236.61 334.50,236.33 334.90,236.20 335.30,236.52 335.70,237.22 336.10,237.45 336.53,236.55 336.97,237.31 337.40,236.65 337.90,236.56 338.40,235.20 338.81,235.87 339.22,236.01 339.64,235.48 340.05,236.13 340.46,235.36 340.88,235.15 341.29,235.86 341.70,235.26 342.11,235.54 342.52,235.87 342.94,236.19 343.35,235.71 343.76,235.64 344.18,236.68 344.59,236.05 345.00,236.85 345.41,236.79 345.81,236.18 346.22,236.30 346.62,236.38 347.03,236.54 347.43,236.50 347.84,236.47 348.24,236.55 348.65,236.94 349.05,236.43 349.46,236.35 349.86,236.71 350.27,236.14 350.68,236.22 351.08,237.04 351.49,236.50 351.89,236.54 352.30,235.91 352.70,236.40 353.11,236.60 353.51,235.94 353.92,236.66 354.32,236.68 354.73,236.00 355.14,236.69 355.54,236.50 355.95,236.76 356.35,236.38 356.76,236.81 357.16,236.85 357.57,235.99 357.97,236.05 358.38,236.79 358.78,237.14 359.19,236.29 359.59,236.54 360.00,236.71 360.40,236.39 360.80,236.45 361.20,236.39 361.60,236.47 362.00,236.74 362.40,236.39 362.80,236.49 363.20,236.97 363.60,236.08 364.00,236.74 364.40,236.94 364.80,236.44 365.20,236.34 365.60,237.04 366.00,236.36 366.40,236.31 366.80,236.61 367.20,236.93 367.60,236.22 368.00,236.49 368.40,236.51 368.80,237.11 369.20,236.64 369.60,237.15 370.00,236.33 370.40,236.53 370.80,236.91 371.20,237.20 371.60,236.68 372.00,236.42 372.40,236.30 372.80,236.79 373.20,236.39 373.60,237.13 374.00,237.17 374.40,236.39 374.80,236.51 375.20,237.15 375.60,236.95 376.00,237.15 376.40,236.61 376.80,236.35 377.20,236.55 377.60,237.16 378.00,236.53 378.40,236.63 378.80,236.71 379.20,236.72 379.60,236.71 380.00,237.33 380.40,236.42 380.80,236.24 381.20,237.37 381.60,237.30 382.00,237.43 382.40,236.77 382.80,237.39 383.20,237.37 383.60,236.52 384.00,237.16 384.40,237.27 384.80,237.06 385.20,236.89 385.60,236.62 386.00,236.69 386.40,236.56 386.80,236.37 387.20,237.00 387.60,236.64 388.00,237.27 388.40,236.35 388.80,237.39 389.20,237.14 389.60,237.42 390.00,237.39 390.40,237.40 390.80,237.01 391.20,236.34 391.60,237.22 392.00,236.54 392.40,236.69 392.80,237.13 393.20,236.97 393.60,236.84 394.00,237.47 394.40,237.09 394.80,236.76 395.20,236.66 395.60,237.40 396.00,236.94 396.40,237.31 396.80,236.79 397.20,236.61 397.60,237.02 398.00,237.36 398.40,236.59 398.80,237.34 399.20,237.50 399.60,237.36 400.00,237.39 400.40,236.41 400.80,237.16 401.21,237.45 401.61,236.47 402.01,236.74 402.41,236.74 402.82,237.06 403.22,236.94 403.62,237.00 404.02,237.37 404.42,236.44 404.83,236.51 405.23,236.60 405.63,236.60 406.03,236.53 406.43,237.63 406.84,237.48 407.24,236.57 407.64,237.07 408.04,236.85 408.45,236.85 408.85,236.90 409.25,237.26 409.65,237.19 410.05,236.92 410.46,236.72 410.86,236.89 411.26,236.64 411.66,237.17 412.07,237.36 412.47,236.96 412.87,236.60 413.27,236.73 413.67,236.96 414.08,237.24 414.48,237.46 414.88,236.98 415.28,237.49 415.68,237.28 416.09,237.05 416.49,236.98 416.89,237.14 417.29,237.39 417.70,237.05 418.10,237.38 418.50,237.11 418.90,236.85 419.30,237.20 419.71,237.40 420.11,236.65 420.51,237.08 420.91,237.08 421.32,237.63 421.72,237.70 422.12,237.03 422.52,237.66 422.92,237.54 423.33,236.91 423.73,237.15 424.13,236.75 424.53,237.58 424.93,237.40 425.34,237.67 425.74,237.56 426.14,237.41 426.54,237.50 426.95,237.30 427.35,236.75 427.75,237.33 428.15,236.64 428.55,236.80 428.96,237.57 429.36,236.69 429.76,236.75 430.16,236.76 430.57,237.71 430.97,236.87 431.37,236.68 431.77,237.67 432.17,236.81 432.58,237.68 432.98,237.48 433.38,237.67 433.78,237.82 434.18,237.37 434.59,237.64 434.99,236.73 435.39,237.61 435.79,237.30 436.20,237.55 436.60,236.82 437.00,237.60" fill="none" stroke="#ff0000" stroke-width="1.6" stroke-linejoin="round" />
<polyline points="305.00,210.04 305.41,209.97 305.81,210.16 306.22,210.02 306.62,209.97 307.03,210.18 307.44,210.50 307.84,210.43 308.25,210.42 308.66,210.10 309.06,210.30 309.47,210.15 309.88,210.11 310.28,210.08 310.69,210.17 311.09,210.63 311.50,210.60 312.20,212.98 312.60,212.98 313.00,212.62 313.40,212.70 313.80,212.89 314.20,212.96 314.60,213.04 315.00,213.05 315.40,212.58 315.80,212.90 316.20,212.94 316.60,212.84 317.00,212.65 317.40,212.83 317.80,212.60 318.20,213.11 318.60,213.08 319.00,212.89 319.40,212.74 319.80,213.11 320.20,212.91 320.60,213.10 321.00,213.09 321.40,212.88 321.80,212.83 322.20,212.95 322.60,212.85 323.00,212.69 323.40,212.78 323.80,213.09 324.20,212.63 324.60,212.63 325.00,212.98 325.40,212.78 325.80,212.93 326.20,212.90 326.60,212.82 327.00,213.22 327.40,212.74 327.80,212.87 328.20,212.75 328.60,213.01 329.00,212.80 329.40,212.85 329.80,213.09 330.20,212.83 330.60,212.98 331.00,213.19 331.40,212.71 331.80,212.69 332.20,212.79 332.60,213.11 333.00,213.03 333.40,212.80 333.80,212.86 334.20,212.77 334.60,212.94 335.00,212.70 335.40,213.09 335.80,213.21 336.20,213.25 336.60,213.12 337.00,213.26 337.40,212.69 337.80,212.86 338.20,213.27 338.60,213.15 339.00,212.94 339.40,213.26 339.80,213.07 340.20,213.19 340.60,212.87 341.00,212.82 341.40,212.97 341.80,212.79 342.20,212.93 342.60,213.28 343.00,212.91 343.40,212.72 343.80,212.74 344.20,212.82 344.60,213.19 345.00,212.94 345.40,212.89 345.80,212.78 346.20,213.31 346.60,212.98 347.00,212.85 347.40,212.76 347.80,212.76 348.20,212.83 348.60,213.14 349.00,212.82 349.40,212.76 349.80,213.03 350.20,212.89 350.60,213.34 351.00,212.81 351.40,213.06 351.80,213.21 352.20,212.99 352.60,213.34 353.00,213.03 353.40,212.89 353.80,213.00 354.20,212.77 354.60,213.01 355.00,212.90 355.40,213.29 355.80,213.26 356.20,213.06 356.60,212.78 357.00,212.91 357.40,212.91 357.80,212.89 358.20,212.90 358.60,213.29 359.00,212.85 359.40,212.80 359.80,213.32 360.20,213.11 360.60,213.36 361.00,213.01 361.40,213.31 361.80,213.17 362.20,213.25 362.60,213.22 363.00,213.07 363.40,212.83 363.80,212.90 364.20,213.30 364.60,213.32 365.00,213.34 365.40,212.98 365.80,213.18 366.20,213.26 366.60,213.17 367.00,213.27 367.40,213.10 367.80,213.18 368.20,213.20 368.60,212.95 369.00,213.34 369.40,213.36 369.80,212.84 370.20,213.37 370.60,213.37 371.00,213.19 371.40,212.82 371.80,213.33 372.20,212.87 372.60,213.38 373.00,213.20 373.40,212.83 373.80,212.90 374.20,213.18 374.60,213.14 375.00,213.25 375.40,213.36 375.80,212.93 376.20,212.80 376.60,213.36 377.00,212.81 377.40,213.33 377.80,212.87 378.20,213.29 378.60,213.27 379.00,213.33 379.40,213.14 379.80,213.33 380.20,212.93 380.60,213.21 381.00,213.01 381.40,213.34 381.80,213.27 382.20,213.09 382.60,213.13 383.00,212.83 383.40,212.83 383.80,213.17 384.20,213.11 384.60,213.33 385.00,213.18 385.40,212.90 385.80,213.03 386.20,213.28 386.60,213.13 387.00,212.82 387.40,213.32 387.80,213.31 388.20,212.87 388.60,213.14 389.00,213.05 389.40,213.29 389.80,213.01 390.20,212.96 390.60,213.11 391.00,213.40 391.40,212.88 391.80,212.89 392.20,213.19 392.60,213.35 393.00,213.13 393.40,213.08 393.80,213.34 394.20,213.29 394.60,212.86 395.00,213.35 395.40,212.94 395.80,213.01 396.20,213.33 396.60,213.08 397.00,213.31 397.40,212.93 397.80,213.35 398.20,212.93 398.60,212.92 399.00,213.13 399.40,213.03 399.80,213.16 400.20,213.37 400.60,213.26 401.00,212.83 401.40,213.02 401.80,213.16 402.20,213.12 402.60,213.26 403.00,213.12 403.40,212.88 403.80,212.98 404.20,213.34 404.60,213.05 405.00,213.30 405.40,213.43 405.80,213.21 406.20,213.24 406.60,213.20 407.00,213.03 407.40,213.39 407.80,213.12 408.20,213.39 408.60,213.02 409.00,213.36 409.40,213.31 409.80,213.21 410.20,213.11 410.60,212.93 411.00,213.31 411.40,213.06 411.80,213.24 412.20,212.93 412.60,212.90 413.00,212.93 413.40,213.33 413.80,212.95 414.20,213.39 414.60,213.07 415.00,213.20 415.40,213.06 415.80,213.22 416.20,212.91 416.60,213.09 417.00,213.41 417.40,212.96 417.80,213.25 418.20,213.05 418.60,213.04 419.00,212.87 419.40,212.87 419.80,213.43 420.20,213.36 420.60,213.34 421.00,213.34 421.40,213.43 421.80,212.96 422.20,213.21 422.60,213.16 423.00,213.21 423.40,213.43 423.80,213.32 424.20,213.45 424.60,212.94 425.00,213.26 425.40,213.27 425.80,213.32 426.20,213.24 426.60,213.37 427.00,213.05 427.40,213.43 427.80,213.12 428.20,213.23 428.60,213.41 429.00,213.30 429.40,213.06 429.80,213.02 430.20,213.08 430.60,213.26 431.00,213.48 431.40,213.42 431.80,213.12 432.20,213.13 432.60,213.38 433.00,213.06 433.40,213.14 433.80,212.90 434.20,213.00 434.60,213.22 435.00,213.31 435.40,213.26 435.80,213.11 436.20,213.47 436.60,213.27 437.00,212.99" fill="none" stroke="#000" stroke-width="1.3" stroke-linejoin="round" />
<polyline points="313.80,211.77 314.20,211.85 314.60,211.88 315.00,211.97 315.41,211.85 315.81,211.96 316.21,211.43 316.61,211.69 317.01,211.98 317.41,211.81 317.81,211.96 318.21,211.49 318.62,211.70 319.02,211.57 319.42,211.75 319.82,211.77 320.22,211.44 320.62,211.56 321.02,211.60 321.42,211.99 321.83,211.90 322.23,211.54 322.63,211.92 323.03,211.53 323.43,211.82 323.83,211.52 324.23,211.45 324.64,211.98 325.04,211.58 325.44,211.59 325.84,212.05 326.24,211.98 326.64,211.64 327.04,212.04 327.44,211.79 327.85,211.88 328.25,211.59 328.65,212.04 329.05,211.89 329.45,212.06 329.85,212.01 330.25,211.66 330.65,211.70 331.06,211.58 331.46,211.57 331.86,211.53 332.26,211.67 332.66,211.85 333.06,211.50 333.46,211.90 333.87,211.70 334.27,211.69 334.67,211.99 335.07,211.79 335.47,211.70 335.87,211.80 336.27,211.93 336.67,211.55 337.08,212.10 337.48,211.53 337.88,211.97 338.28,212.03 338.68,211.53 339.08,212.00 339.48,211.74 339.88,211.87 340.29,211.53 340.69,211.56 341.09,211.64 341.49,212.11 341.89,211.65 342.29,211.99 342.69,212.10 343.10,212.11 343.50,211.75 343.90,211.76 344.30,211.86 344.70,212.02 345.10,211.62 345.50,212.00 345.90,212.03 346.31,212.07 346.71,211.58 347.11,212.13 347.51,211.62 347.91,211.77 348.31,211.93 348.71,212.12 349.11,211.78 349.52,212.13 349.92,211.90 350.32,211.77 350.72,211.77 351.12,211.69 351.52,211.63 351.92,211.67 352.33,212.00 352.73,212.19 353.13,211.69 353.53,211.62 353.93,212.19 354.33,211.92 354.73,211.84 355.13,211.74 355.54,211.96 355.94,212.10 356.34,211.88 356.74,211.86 357.14,211.64 357.54,212.16 357.94,211.63 358.34,211.91 358.75,212.12 359.15,211.70 359.55,212.06 359.95,212.19 360.35,212.00 360.75,212.10 361.15,211.69 361.56,211.89 361.96,211.72 362.36,212.14 362.76,211.82 363.16,211.91 363.56,212.24 363.96,212.16 364.36,212.23 364.77,211.92 365.17,211.94 365.57,212.09 365.97,211.94 366.37,211.83 366.77,211.90 367.17,211.75 367.57,211.89 367.98,212.26 368.38,212.24 368.78,212.04 369.18,211.97 369.58,211.87 369.98,211.73 370.38,211.84 370.79,212.15 371.19,212.20 371.59,211.90 371.99,212.16 372.39,212.15 372.79,212.10 373.19,212.09 373.59,212.15 374.00,211.91 374.40,212.12 374.80,211.87 375.20,211.99 375.60,212.16 376.00,212.12 376.40,211.88 376.80,212.27 377.21,212.10 377.61,212.06 378.01,211.72 378.41,212.04 378.81,211.87 379.21,212.12 379.61,212.00 380.01,212.21 380.42,212.11 380.82,212.20 381.22,211.94 381.62,212.12 382.02,212.17 382.42,212.23 382.82,211.95 383.23,212.24 383.63,212.26 384.03,212.16 384.43,212.33 384.83,212.32 385.23,212.06 385.63,212.07 386.03,211.85 386.44,212.26 386.84,212.32 387.24,212.04 387.64,212.17 388.04,212.19 388.44,212.20 388.84,211.87 389.24,212.24 389.65,212.12 390.05,212.17 390.45,212.03 390.85,212.15 391.25,212.24 391.65,212.16 392.05,212.21 392.46,211.80 392.86,211.88 393.26,212.05 393.66,212.18 394.06,211.92 394.46,212.20 394.86,212.17 395.26,211.82 395.67,212.08 396.07,211.94 396.47,211.84 396.87,211.88 397.27,212.00 397.67,211.92 398.07,211.93 398.47,211.83 398.88,212.09 399.28,212.04 399.68,212.19 400.08,212.17 400.48,211.96 400.88,212.37 401.28,211.83 401.69,212.07 402.09,212.00 402.49,212.08 402.89,211.90 403.29,212.33 403.69,212.06 404.09,211.86 404.49,212.21 404.90,211.90 405.30,212.17 405.70,212.05 406.10,212.20 406.50,212.43 406.90,212.34 407.30,212.11 407.70,212.35 408.11,212.24 408.51,212.08 408.91,211.95 409.31,212.22 409.71,212.21 410.11,212.44 410.51,212.45 410.92,212.24 411.32,212.09 411.72,212.41 412.12,211.88 412.52,211.95 412.92,212.22 413.32,212.25 413.72,211.97 414.13,212.27 414.53,212.43 414.93,212.12 415.33,212.15 415.73,212.03 416.13,212.07 416.53,212.48 416.93,212.13 417.34,212.48 417.74,212.45 418.14,212.27 418.54,212.07 418.94,212.50 419.34,212.21 419.74,212.17 420.15,212.11 420.55,212.51 420.95,212.22 421.35,212.10 421.75,212.21 422.15,212.00 422.55,212.30 422.95,212.20 423.36,212.11 423.76,212.40 424.16,212.43 424.56,211.95 424.96,212.26 425.36,212.11 425.76,212.51 426.16,212.42 426.57,212.10 426.97,212.11 427.37,212.05 427.77,212.55 428.17,212.13 428.57,212.32 428.97,212.25 429.38,212.35 429.78,212.33 430.18,212.41 430.58,212.04 430.98,212.43 431.38,212.15 431.78,212.29 432.18,212.18 432.59,212.16 432.99,212.30 433.39,212.26 433.79,212.20 434.19,212.43 434.59,212.34 434.99,212.01 435.39,212.14 435.80,212.27 436.20,212.55 436.60,212.53 437.00,212.33" fill="none" stroke="#17175f" stroke-width="1.8" stroke-linejoin="round" />
<polyline points="305.00,255.07 305.41,255.08 305.83,255.00 306.24,254.94 306.66,254.88 307.07,255.04 307.49,254.99 307.90,255.06 308.31,254.97 308.73,255.06 309.14,254.95 309.56,255.07 309.97,255.06 310.39,254.98 310.80,255.01 311.50,251.44 311.90,252.99 312.30,255.01 312.73,255.47 313.17,255.55 313.60,256.07 314.05,258.07 314.50,260.58 314.90,261.70 315.30,262.69 315.70,263.76 316.10,264.58 316.50,265.29 316.90,265.99 317.30,266.76 317.70,267.59 318.10,268.18 318.50,268.98 318.90,269.48 319.30,269.93 319.70,270.54 320.10,270.96 320.50,271.57 320.90,272.02 321.30,272.36 321.70,272.80 322.10,273.21 322.50,273.61 322.90,274.00 323.30,274.10 323.70,274.49 324.10,274.82 324.54,275.04 324.97,275.37 325.41,275.50 325.85,275.93 326.28,276.07 326.72,276.19 327.15,276.52 327.59,276.63 328.03,276.79 328.46,277.03 328.90,277.11 329.33,277.29 329.75,277.59 330.18,277.69 330.61,277.65 331.04,277.96 331.46,277.90 331.89,278.10 332.32,278.35 332.75,278.40 333.17,278.44 333.60,278.57 334.04,278.69 334.47,278.75 334.91,279.08 335.35,278.98 335.78,279.19 336.22,279.38 336.65,279.41 337.09,279.65 337.53,279.57 337.96,279.84 338.40,279.89 338.81,279.91 339.21,280.03 339.62,279.98 340.03,280.14 340.44,280.19 340.84,280.17 341.25,280.22 341.66,280.32 342.06,280.30 342.47,280.26 342.88,280.46 343.29,280.38 343.69,280.47 344.10,280.57 344.51,280.45 344.92,280.43 345.32,280.48 345.73,280.62 346.14,280.58 346.55,280.58 346.95,280.65 347.36,280.78 347.77,280.64 348.18,280.70 348.58,280.83 348.99,280.78 349.40,280.71 349.81,280.78 350.22,280.79 350.62,280.73 351.03,280.80 351.44,280.80 351.85,280.93 352.25,280.83 352.66,280.92 353.07,281.01 353.48,281.01 353.88,280.89 354.29,280.96 354.70,280.90 355.11,280.93 355.52,280.97 355.92,281.05 356.33,281.10 356.74,280.96 357.15,280.90 357.55,281.02 357.96,280.93 358.37,280.94 358.78,281.13 359.18,280.98 359.59,281.14 360.00,281.07 360.40,281.22 360.80,281.21 361.20,281.03 361.60,281.07 362.00,281.27 362.40,281.20 362.80,281.17 363.20,281.27 363.60,281.28 364.00,281.22 364.40,281.23 364.80,281.15 365.20,281.22 365.60,281.18 366.00,281.31 366.40,281.32 366.80,281.22 367.20,281.35 367.60,281.23 368.00,281.25 368.40,281.39 368.80,281.35 369.20,281.47 369.60,281.42 370.00,281.44 370.40,281.32 370.80,281.50 371.20,281.33 371.60,281.47 372.00,281.55 372.40,281.56 372.80,281.56 373.20,281.46 373.60,281.53 374.00,281.56 374.40,281.42 374.80,281.62 375.20,281.62 375.60,281.51 376.00,281.60 376.40,281.53 376.80,281.50 377.20,281.61 377.60,281.46 378.00,281.64 378.40,281.69 378.80,281.53 379.20,281.70 379.60,281.50 380.00,281.69 380.40,281.55 380.80,281.72 381.20,281.60 381.61,281.72 382.01,281.51 382.41,281.53 382.81,281.71 383.21,281.67 383.61,281.65 384.01,281.53 384.42,281.57 384.82,281.62 385.22,281.55 385.62,281.78 386.02,281.73 386.42,281.78 386.82,281.72 387.23,281.64 387.63,281.58 388.03,281.74 388.43,281.60 388.83,281.70 389.23,281.69 389.63,281.70 390.04,281.60 390.44,281.61 390.84,281.72 391.24,281.60 391.64,281.72 392.04,281.64 392.44,281.67 392.85,281.65 393.25,281.75 393.65,281.71 394.05,281.67 394.45,281.68 394.85,281.76 395.25,281.85 395.65,281.73 396.06,281.67 396.46,281.71 396.86,281.70 397.26,281.78 397.66,281.83 398.06,281.79 398.46,281.70 398.87,281.73 399.27,281.75 399.67,281.77 400.07,281.76 400.47,281.91 400.87,281.80 401.27,281.83 401.68,281.85 402.08,281.83 402.48,281.87 402.88,281.77 403.28,281.84 403.68,281.92 404.08,281.73 404.49,281.84 404.89,281.79 405.29,281.71 405.69,281.71 406.09,281.88 406.49,281.73 406.89,281.88 407.30,281.73 407.70,281.80 408.10,281.72 408.50,281.85 408.90,281.91 409.30,281.77 409.70,281.86 410.11,281.95 410.51,281.80 410.91,281.84 411.31,281.91 411.71,281.94 412.11,281.78 412.51,281.90 412.92,281.77 413.32,281.77 413.72,281.98 414.12,281.76 414.52,281.97 414.92,281.93 415.32,281.92 415.73,281.93 416.13,281.91 416.53,281.83 416.93,281.87 417.33,281.81 417.73,281.97 418.13,281.96 418.54,281.96 418.94,281.82 419.34,281.92 419.74,281.84 420.14,281.97 420.54,281.96 420.94,282.02 421.35,281.96 421.75,281.95 422.15,281.98 422.55,281.81 422.95,281.94 423.35,281.80 423.75,281.89 424.15,281.83 424.56,282.03 424.96,281.81 425.36,282.03 425.76,282.04 426.16,281.92 426.56,282.01 426.96,281.83 427.37,281.85 427.77,281.82 428.17,281.84 428.57,281.83 428.97,282.03 429.37,281.85 429.77,281.98 430.18,281.90 430.58,281.87 430.98,281.94 431.38,281.89 431.78,282.08 432.18,281.94 432.58,281.99 432.99,281.99 433.39,282.01 433.79,281.97 434.19,281.93 434.59,281.90 434.99,282.08 435.39,281.92 435.80,281.98 436.20,282.07 436.60,282.02 437.00,282.11" fill="none" stroke="#bcbcb5" stroke-width="1.2" stroke-linejoin="round" />
<polyline points="305.00,254.59 305.41,254.40 305.81,255.02 306.22,254.34 306.62,254.91 307.03,254.73 307.44,254.37 307.84,254.92 308.25,254.37 308.65,254.86 309.06,254.44 309.46,254.47 309.87,254.88 310.28,255.38 310.68,254.55 311.09,254.68 311.49,255.18 311.90,255.58 312.31,255.15 312.71,254.94 313.12,255.66 313.52,254.56 313.93,255.55 314.34,254.89 314.74,254.74 315.15,254.73 315.55,254.98 315.96,255.62 316.36,254.89 316.77,255.40 317.18,255.50 317.58,255.22 317.99,255.47 318.39,254.93 318.80,254.97 319.23,255.28 319.65,256.11 320.07,256.16 320.50,256.43 320.93,257.19 321.35,257.44 321.77,257.61 322.20,258.45 322.60,258.51 323.00,258.11 323.40,258.63 323.80,258.69 324.20,259.21 324.60,259.14 325.00,258.71 325.40,259.64 325.80,258.72 326.20,259.20 326.60,259.75 327.00,259.18 327.43,259.79 327.85,259.50 328.28,260.53 328.71,260.95 329.14,261.04 329.56,261.74 329.99,261.41 330.42,262.20 330.85,262.41 331.27,262.70 331.70,262.85 332.10,263.57 332.50,263.96 332.90,263.67 333.30,264.17 333.70,263.71 334.10,264.74 334.50,264.92 334.90,265.58 335.30,265.60 335.70,265.17 336.10,265.49 336.50,266.00 336.92,265.39 337.34,266.06 337.77,265.84 338.19,265.90 338.61,265.95 339.03,266.92 339.46,266.28 339.88,266.55 340.30,266.87 340.73,267.61 341.16,266.83 341.59,267.44 342.02,267.75 342.45,268.33 342.88,268.45 343.31,268.69 343.74,268.17 344.17,268.52 344.60,268.63 345.01,269.43 345.41,269.68 345.82,268.88 346.23,269.08 346.64,269.31 347.04,269.48 347.45,269.95 347.86,270.24 348.27,270.01 348.67,269.87 349.08,270.53 349.49,270.64 349.90,271.04 350.30,271.67 350.71,271.51 351.12,271.46 351.53,271.74 351.93,271.97 352.34,271.38 352.75,272.55 353.16,272.56 353.56,272.83 353.97,272.88 354.38,272.54 354.79,272.70 355.19,272.48 355.60,273.26 356.01,272.71 356.42,272.85 356.82,273.15 357.23,273.23 357.64,273.57 358.05,273.35 358.45,273.41 358.86,273.71 359.27,273.78 359.68,274.21 360.08,273.92 360.49,275.06 360.90,274.87 361.31,274.42 361.72,274.67 362.12,274.90 362.53,275.03 362.94,274.86 363.35,275.85 363.75,276.15 364.16,275.63 364.57,275.78 364.98,275.42 365.38,275.57 365.79,275.98 366.20,276.02 366.62,276.84 367.04,276.21 367.46,276.23 367.88,277.53 368.30,277.20 368.72,276.91 369.14,277.53 369.56,277.03 369.98,277.71 370.40,278.27 370.82,278.13 371.24,277.90 371.66,277.34 372.08,277.42 372.50,277.12 372.92,277.78 373.34,277.42 373.76,277.64 374.18,277.03 374.60,276.83 375.02,277.47 375.44,277.61 375.86,277.40 376.28,277.30 376.70,277.28 377.11,277.16 377.52,276.53 377.92,276.85 378.33,276.64 378.74,276.22 379.15,276.20 379.55,276.49 379.96,276.45 380.37,276.96 380.78,277.26 381.18,276.64 381.59,277.23 382.00,277.29 382.40,277.26 382.81,276.58 383.21,276.45 383.62,276.52 384.02,276.55 384.43,276.65 384.83,277.25 385.24,277.68 385.64,277.71 386.05,277.39 386.45,277.72 386.86,278.01 387.26,277.26 387.67,278.06 388.07,278.47 388.48,278.41 388.88,278.46 389.29,278.22 389.69,277.92 390.10,278.71 390.50,278.20 390.91,278.79 391.33,279.02 391.74,278.35 392.15,278.38 392.57,279.06 392.98,278.81 393.39,278.16 393.80,278.13 394.22,278.17 394.63,279.09 395.04,278.99 395.46,278.21 395.87,279.04 396.28,279.24 396.70,278.86 397.11,278.51 397.52,278.76 397.93,278.27 398.35,278.15 398.76,279.31 399.17,278.94 399.59,278.81 400.00,279.32 400.41,278.74 400.81,279.28 401.22,279.25 401.62,278.53 402.03,278.60 402.43,278.67 402.84,278.63 403.24,279.07 403.65,278.70 404.05,278.91 404.46,278.59 404.86,279.55 405.27,278.90 405.68,279.05 406.08,279.22 406.49,279.63 406.89,279.08 407.30,279.70 407.70,279.22 408.11,279.28 408.51,279.29 408.92,278.71 409.32,279.24 409.73,278.95 410.14,278.76 410.54,279.74 410.95,279.01 411.35,279.39 411.76,279.71 412.16,279.53 412.57,279.28 412.97,279.53 413.38,279.59 413.78,279.89 414.19,279.09 414.59,279.65 415.00,279.30 415.40,279.35 415.80,279.96 416.20,279.66 416.60,279.74 417.00,280.00 417.40,280.20 417.80,279.65 418.20,279.87 418.60,279.76 419.00,279.78 419.40,280.01 419.80,279.74 420.20,279.85 420.60,279.80 421.00,280.37 421.40,280.10 421.80,280.32 422.20,280.42 422.60,279.61 423.00,279.99 423.40,280.46 423.80,280.35 424.20,279.52 424.60,279.52 425.00,279.92 425.40,279.49 425.80,279.70 426.20,279.51 426.60,280.24 427.00,280.40 427.40,280.54 427.80,279.67 428.20,280.35 428.60,280.30 429.00,279.69 429.40,280.60 429.80,280.71 430.20,279.83 430.60,280.72 431.00,280.07 431.40,280.19 431.80,280.81 432.20,280.63 432.60,279.84 433.00,280.18 433.40,280.29 433.80,280.09 434.20,279.94 434.60,280.10 435.00,280.60 435.40,279.77 435.80,280.42 436.20,280.30 436.60,279.81 437.00,280.20" fill="none" stroke="#ff0000" stroke-width="2.0" stroke-linejoin="round" />
<polyline points="305.00,254.96 305.40,255.33 305.80,254.92 306.20,255.21 306.60,254.90 307.00,254.98 307.40,255.36 307.80,254.96 308.20,255.18 308.60,255.09 309.00,255.09 309.40,255.11 309.80,254.96 310.20,255.28 310.60,254.91 311.00,254.99 311.40,254.88 311.80,255.00 312.20,255.08 312.60,255.32 313.00,255.06 313.40,254.93 313.80,255.01 314.20,255.37 314.60,254.91 315.00,255.19 315.40,255.07 315.80,255.21 316.20,255.05 316.60,255.23 317.00,255.14 317.40,255.21 317.80,255.34 318.20,255.18 318.60,254.96 319.00,254.92 319.40,255.37 319.80,255.14 320.20,254.99 320.60,255.37 321.00,255.19 321.40,255.26 321.80,255.34 322.20,255.04 322.60,255.08 323.00,255.34 323.40,254.97 323.80,255.29 324.20,254.96 324.60,255.25 325.00,255.26 325.40,255.39 325.80,255.33 326.20,255.17 326.60,255.01 327.00,254.99 327.40,255.18 327.80,255.17 328.20,254.96 328.60,255.37 329.00,255.18 329.40,255.27 329.80,255.04 330.20,255.05 330.60,254.93 331.00,255.10 331.40,255.06 331.80,255.14 332.20,255.12 332.60,255.35 333.00,255.38 333.40,255.02 333.80,255.14 334.20,255.02 334.60,255.27 335.00,255.43 335.40,255.04 335.80,255.33 336.20,255.09 336.60,254.95 337.00,255.33 337.40,255.12 337.80,255.03 338.20,255.17 338.60,255.07 339.00,255.16 339.40,255.18 339.80,255.16 340.20,255.25 340.60,255.10 341.00,255.01 341.40,255.00 341.80,255.01 342.20,255.22 342.60,255.14 343.00,255.37 343.40,255.22 343.80,255.32 344.20,255.46 344.60,255.00 345.00,254.98 345.40,255.04 345.80,255.17 346.20,255.26 346.60,255.35 347.00,255.15 347.40,255.46 347.80,254.98 348.20,255.40 348.60,255.09 349.00,255.42 349.40,255.00 349.80,255.47 350.20,255.37 350.60,255.48 351.00,255.28 351.40,255.08 351.80,255.48 352.20,255.21 352.60,255.04 353.00,255.30 353.40,255.25 353.80,255.23 354.20,255.08 354.60,255.06 355.00,255.29 355.40,255.23 355.80,255.07 356.20,255.22 356.60,255.37 357.00,255.37 357.40,255.24 357.80,255.21 358.20,255.19 358.60,255.13 359.00,255.11 359.40,255.24 359.80,255.07 360.20,255.38 360.60,255.37 361.00,255.33 361.40,255.03 361.80,255.20 362.20,255.24 362.60,255.07 363.00,255.51 363.40,255.40 363.80,255.28 364.20,255.38 364.60,255.13 365.00,255.15 365.40,255.30 365.80,255.41 366.20,255.36 366.60,255.04 367.00,255.34 367.40,255.49 367.80,255.41 368.20,255.51 368.60,255.53 369.00,255.16 369.40,255.19 369.80,255.32 370.20,255.54 370.60,255.23 371.00,255.52 371.40,255.48 371.80,255.31 372.20,255.37 372.60,255.53 373.00,255.45 373.40,255.21 373.80,255.48 374.20,255.16 374.60,255.25 375.00,255.54 375.40,255.49 375.80,255.22 376.20,255.21 376.60,255.37 377.00,255.49 377.40,255.41 377.80,255.54 378.20,255.44 378.60,255.48 379.00,255.38 379.40,255.26 379.80,255.29 380.20,255.32 380.60,255.34 381.00,255.50 381.40,255.22 381.80,255.12 382.20,255.45 382.60,255.22 383.00,255.30 383.40,255.15 383.80,255.50 384.20,255.23 384.60,255.24 385.00,255.49 385.40,255.35 385.80,255.23 386.20,255.54 386.60,255.30 387.00,255.28 387.40,255.58 387.80,255.50 388.20,255.48 388.60,255.23 389.00,255.51 389.40,255.40 389.80,255.52 390.20,255.29 390.60,255.50 391.00,255.51 391.40,255.31 391.80,255.44 392.20,255.50 392.60,255.61 393.00,255.58 393.40,255.51 393.80,255.19 394.20,255.43 394.60,255.46 395.00,255.17 395.40,255.36 395.80,255.56 396.20,255.58 396.60,255.59 397.00,255.18 397.40,255.43 397.80,255.56 398.20,255.46 398.60,255.29 399.00,255.15 399.40,255.60 399.80,255.57 400.20,255.47 400.60,255.32 401.00,255.56 401.40,255.55 401.80,255.51 402.20,255.44 402.60,255.31 403.00,255.30 403.40,255.33 403.80,255.31 404.20,255.41 404.60,255.21 405.00,255.51 405.40,255.33 405.80,255.24 406.20,255.28 406.60,255.35 407.00,255.37 407.40,255.55 407.80,255.21 408.20,255.27 408.60,255.31 409.00,255.25 409.40,255.54 409.80,255.22 410.20,255.19 410.60,255.45 411.00,255.54 411.40,255.58 411.80,255.45 412.20,255.34 412.60,255.62 413.00,255.55 413.40,255.42 413.80,255.46 414.20,255.65 414.60,255.68 415.00,255.65 415.40,255.25 415.80,255.35 416.20,255.39 416.60,255.27 417.00,255.57 417.40,255.22 417.80,255.64 418.20,255.49 418.60,255.50 419.00,255.40 419.40,255.66 419.80,255.49 420.20,255.65 420.60,255.66 421.00,255.55 421.40,255.69 421.80,255.45 422.20,255.39 422.60,255.63 423.00,255.47 423.40,255.36 423.80,255.55 424.20,255.45 424.60,255.28 425.00,255.63 425.40,255.46 425.80,255.70 426.20,255.48 426.60,255.69 427.00,255.36 427.40,255.33 427.80,255.49 428.20,255.61 428.60,255.64 429.00,255.55 429.40,255.29 429.80,255.43 430.20,255.25 430.60,255.42 431.00,255.70 431.40,255.41 431.80,255.58 432.20,255.55 432.60,255.31 433.00,255.58 433.40,255.28 433.80,255.33 434.20,255.53 434.60,255.31 435.00,255.73 435.40,255.46 435.80,255.56 436.20,255.73 436.60,255.30 437.00,255.75" fill="none" stroke="#121250" stroke-width="1.3" stroke-linejoin="round" />
<polyline points="305.00,254.47 305.46,254.42 305.91,254.27 306.37,254.78 306.83,254.19 307.29,254.55 307.74,254.85 308.20,254.31 308.80,256.34 309.40,254.68 309.82,254.28 310.23,254.52 310.65,254.74 311.07,254.57 311.48,254.76 311.90,254.36 312.60,256.42 313.30,254.53 313.70,254.80 314.10,255.10 314.50,254.86 314.90,254.99 315.30,254.72 315.70,254.97 316.10,254.52 316.50,254.65 316.90,254.92 317.30,254.96 317.70,254.75 318.10,254.51 318.50,254.64 318.90,254.60 319.30,254.65 319.71,255.02 320.11,254.59 320.51,255.07 320.91,255.07 321.31,254.49 321.71,254.72 322.11,254.80 322.51,254.47 322.91,254.75 323.31,255.09 323.71,254.53 324.11,254.87 324.51,254.54 324.91,254.86 325.31,255.08 325.71,254.59 326.11,254.46 326.51,254.51 326.91,254.83 327.31,254.46 327.71,254.51 328.11,254.80 328.51,255.10 328.91,254.75 329.31,254.73 329.71,254.90 330.11,254.52 330.51,254.86 330.91,254.57 331.31,254.88 331.71,255.12 332.12,254.49 332.52,254.84 332.92,254.88 333.32,254.56 333.72,254.64 334.12,255.15 334.52,255.15 334.92,254.54 335.32,254.95 335.72,255.12 336.12,254.62 336.52,254.88 336.92,254.49 337.32,254.71 337.72,254.93 338.12,254.87 338.52,255.00 338.92,254.52 339.32,254.70 339.72,255.06 340.12,254.87 340.52,254.77 340.92,254.74 341.32,255.15 341.72,254.86 342.12,254.47 342.52,255.02 342.92,254.69 343.32,254.76 343.72,254.61 344.12,254.77 344.53,254.69 344.93,254.52 345.33,254.90 345.73,254.53 346.13,255.01 346.53,254.48 346.93,255.01 347.33,255.03 347.73,254.81 348.13,254.96 348.53,254.64 348.93,254.98 349.33,254.76 349.73,254.63 350.13,255.14 350.53,254.75 350.93,254.73 351.33,255.07 351.73,254.72 352.13,254.93 352.53,254.59 352.93,255.06 353.33,254.65 353.73,254.50 354.13,255.15 354.53,254.59 354.93,255.13 355.33,255.16 355.73,254.89 356.13,254.48 356.53,254.51 356.94,254.62 357.34,254.74 357.74,254.90 358.14,255.15 358.54,254.72 358.94,254.57 359.34,254.87 359.74,254.57 360.14,254.53 360.54,254.86 360.94,254.96 361.34,254.52 361.74,254.79 362.14,254.97 362.54,255.01 362.94,254.74 363.34,255.10 363.74,254.59 364.14,254.98 364.54,255.02 364.94,255.09 365.34,254.82 365.74,254.55 366.14,254.51 366.54,254.85 366.94,254.60 367.34,254.92 367.74,254.54 368.14,255.03 368.54,254.64 368.94,254.49 369.35,254.60 369.75,254.80 370.15,254.87 370.55,254.75 370.95,254.60 371.35,254.82 371.75,255.15 372.15,254.86 372.55,255.14 372.95,254.51 373.35,255.18 373.75,255.11 374.15,254.87 374.55,254.85 374.95,254.86 375.35,255.12 375.75,254.53 376.15,254.94 376.55,254.87 376.95,254.70 377.35,255.00 377.75,254.99 378.15,254.56 378.55,254.98 378.95,254.81 379.35,254.83 379.75,254.94 380.15,254.53 380.55,254.92 380.95,254.75 381.36,255.11 381.76,254.66 382.16,255.07 382.56,255.01 382.96,254.93 383.36,255.11 383.76,254.52 384.16,254.91 384.56,254.93 384.96,254.97 385.36,254.78 385.76,254.55 386.16,254.63 386.56,254.93 386.96,254.63 387.36,254.55 387.76,254.75 388.16,254.83 388.56,254.88 388.96,254.52 389.36,255.05 389.76,254.74 390.16,255.05 390.56,254.51 390.96,255.17 391.36,254.92 391.76,255.19 392.16,255.20 392.56,255.09 392.96,254.58 393.36,254.75 393.77,254.67 394.17,255.05 394.57,254.64 394.97,254.66 395.37,254.59 395.77,254.59 396.17,255.17 396.57,255.19 396.97,254.77 397.37,255.03 397.77,254.84 398.17,254.88 398.57,254.77 398.97,254.96 399.37,254.68 399.77,254.69 400.17,254.88 400.57,254.65 400.97,254.82 401.37,255.18 401.77,254.53 402.17,254.59 402.57,255.08 402.97,254.56 403.37,254.69 403.77,255.11 404.17,254.94 404.57,254.67 404.97,254.56 405.37,254.71 405.77,254.73 406.18,255.08 406.58,255.20 406.98,255.07 407.38,255.15 407.78,255.17 408.18,255.14 408.58,255.17 408.98,255.20 409.38,254.59 409.78,254.75 410.18,254.70 410.58,254.95 410.98,254.87 411.38,254.77 411.78,255.11 412.18,254.81 412.58,254.67 412.98,254.72 413.38,254.85 413.78,254.96 414.18,254.93 414.58,254.84 414.98,254.66 415.38,254.81 415.78,254.76 416.18,254.65 416.58,254.91 416.98,254.66 417.38,255.03 417.78,254.99 418.18,254.63 418.59,254.97 418.99,254.77 419.39,254.85 419.79,254.96 420.19,255.07 420.59,255.15 420.99,255.05 421.39,254.68 421.79,254.92 422.19,254.77 422.59,254.55 422.99,254.92 423.39,254.87 423.79,255.15 424.19,254.77 424.59,255.12 424.99,254.90 425.39,254.61 425.79,255.04 426.19,254.74 426.59,254.91 426.99,254.59 427.39,254.55 427.79,255.19 428.19,254.57 428.59,254.65 428.99,254.66 429.39,254.61 429.79,255.12 430.19,255.24 430.59,255.00 431.00,254.82 431.40,255.17 431.80,254.90 432.20,254.64 432.60,255.03 433.00,254.80 433.40,254.74 433.80,254.77 434.20,254.82 434.60,254.68 435.00,254.98 435.40,255.16 435.80,254.95 436.20,254.56 436.60,255.03 437.00,254.56" fill="none" stroke="#36a636" stroke-width="1.4" stroke-linejoin="round" />
<polyline points="305.00,295.09 305.42,294.95 305.83,295.17 306.25,294.75 306.66,295.51 307.08,295.54 307.50,295.36 307.91,294.79 308.33,295.25 308.74,295.04 309.16,294.97 309.58,295.83 309.99,295.91 310.41,294.79 310.82,295.80 311.24,295.52 311.66,295.29 312.07,295.21 312.49,295.73 312.90,295.51 313.32,295.84 313.74,295.88 314.15,295.31 314.57,296.15 314.98,296.49 315.40,296.56 315.82,296.51 316.24,296.65 316.66,297.68 317.08,298.99 317.50,301.03 317.90,301.24 318.30,302.36 318.70,304.05 319.10,304.33 319.50,305.46 319.95,306.14 320.40,306.44 320.85,307.76 321.30,308.72 321.75,308.50 322.20,309.17 322.60,309.90 323.00,309.93 323.40,310.95 323.80,311.78 324.20,312.02 324.60,312.27 325.00,313.03 325.40,312.53 325.80,313.37 326.20,313.46 326.60,314.04 327.00,313.75 327.40,314.84 327.80,314.30 328.20,314.66 328.60,315.70 329.00,316.14 329.41,315.79 329.81,316.04 330.22,316.10 330.62,316.40 331.03,317.07 331.44,316.80 331.84,316.98 332.25,317.63 332.65,317.53 333.06,318.35 333.46,318.79 333.87,318.97 334.28,318.84 334.68,318.90 335.09,319.21 335.49,318.91 335.90,319.96 336.30,319.69 336.70,319.87 337.10,319.77 337.50,320.40 337.90,320.74 338.30,320.69 338.70,321.45 339.10,321.38 339.50,321.03 339.90,321.54 340.30,322.16 340.70,321.84 341.10,322.09 341.50,321.59 341.90,322.23 342.30,322.33 342.70,322.38 343.11,322.52 343.51,322.84 343.92,322.90 344.32,322.95 344.73,322.67 345.13,323.11 345.54,323.85 345.94,323.28 346.35,322.93 346.76,322.98 347.16,323.71 347.57,323.22 347.97,323.35 348.38,323.45 348.78,323.94 349.19,324.66 349.59,324.12 350.00,324.15 350.40,324.18 350.80,324.32 351.20,324.32 351.60,324.71 352.00,324.97 352.40,324.79 352.80,324.51 353.20,324.84 353.60,325.20 354.00,324.34 354.40,324.49 354.80,325.00 355.20,325.12 355.60,325.12 356.00,325.09 356.40,325.42 356.80,325.04 357.20,325.47 357.60,325.69 358.00,325.09 358.40,325.63 358.80,325.49 359.20,325.72 359.60,324.73 360.00,325.80 360.40,325.64 360.80,325.89 361.20,325.94 361.60,325.12 362.00,325.60 362.40,324.98 362.80,325.55 363.20,325.95 363.60,325.10 364.00,325.31 364.40,325.00 364.80,325.15 365.20,325.19 365.60,325.07 366.00,326.17 366.40,326.05 366.80,325.56 367.20,325.91 367.60,325.87 368.00,325.67 368.40,325.57 368.80,325.87 369.20,325.76 369.60,325.42 370.00,325.56 370.40,325.89 370.80,325.90 371.20,325.41 371.60,325.90 372.00,326.24 372.40,326.24 372.80,325.99 373.20,325.31 373.60,325.74 374.00,325.36 374.40,325.33 374.80,325.58 375.20,325.83 375.60,326.21 376.00,326.06 376.40,325.66 376.80,326.16 377.20,325.95 377.60,325.96 378.00,325.68 378.40,325.90 378.80,325.79 379.20,326.26 379.60,325.98 380.00,325.95 380.40,325.99 380.80,326.00 381.20,326.27 381.60,326.31 382.00,326.42 382.40,325.95 382.80,326.43 383.20,326.64 383.60,326.68 384.00,326.37 384.40,325.59 384.80,326.53 385.20,326.53 385.60,325.55 386.00,325.94 386.40,325.94 386.80,326.45 387.20,326.30 387.60,325.91 388.00,325.81 388.40,325.79 388.80,325.71 389.20,326.55 389.60,326.74 390.00,325.88 390.40,326.52 390.80,326.78 391.20,325.87 391.60,326.34 392.00,326.18 392.40,326.83 392.80,326.72 393.20,325.70 393.60,325.93 394.00,326.71 394.40,326.39 394.80,326.33 395.20,326.69 395.60,326.64 396.00,326.87 396.40,326.13 396.80,325.80 397.20,326.58 397.60,325.82 398.00,326.44 398.40,326.80 398.80,326.25 399.20,326.51 399.60,326.00 400.00,325.99 400.40,326.53 400.80,326.85 401.21,327.02 401.61,325.87 402.01,326.94 402.41,326.46 402.82,326.27 403.22,326.33 403.62,326.56 404.02,326.29 404.42,326.05 404.83,326.92 405.23,326.74 405.63,326.63 406.03,326.77 406.43,327.09 406.84,326.12 407.24,326.91 407.64,326.91 408.04,326.34 408.45,326.61 408.85,326.49 409.25,326.18 409.65,326.47 410.05,326.14 410.46,327.08 410.86,326.20 411.26,326.74 411.66,326.67 412.07,327.16 412.47,326.95 412.87,326.43 413.27,326.46 413.67,326.07 414.08,326.08 414.48,326.39 414.88,327.16 415.28,326.09 415.68,326.25 416.09,326.80 416.49,326.48 416.89,326.27 417.29,327.19 417.70,326.11 418.10,326.78 418.50,326.59 418.90,326.49 419.30,326.31 419.71,326.28 420.11,326.58 420.51,327.00 420.91,326.66 421.32,327.04 421.72,327.16 422.12,326.32 422.52,327.18 422.92,326.82 423.33,326.63 423.73,326.75 424.13,327.21 424.53,326.61 424.93,326.26 425.34,327.31 425.74,326.30 426.14,326.29 426.54,327.03 426.95,326.55 427.35,326.53 427.75,326.96 428.15,327.26 428.55,326.61 428.96,327.29 429.36,326.95 429.76,326.94 430.16,326.85 430.57,326.23 430.97,326.41 431.37,327.04 431.77,327.06 432.17,326.35 432.58,327.01 432.98,326.82 433.38,326.94 433.78,326.74 434.18,326.52 434.59,326.69 434.99,327.44 435.39,326.50 435.79,327.32 436.20,326.93 436.60,326.38 437.00,327.27" fill="none" stroke="#9a9a96" stroke-width="1.2" stroke-linejoin="round" />
<polyline points="305.00,295.42 305.41,295.58 305.81,296.15 306.22,295.41 306.63,295.46 307.04,295.58 307.44,294.92 307.85,295.43 308.26,295.60 308.67,295.85 309.07,294.71 309.48,295.03 309.89,294.68 310.30,295.81 310.70,295.62 311.11,294.56 311.52,296.05 311.93,296.01 312.33,295.50 312.74,295.43 313.15,294.69 313.56,294.45 313.96,295.26 314.37,294.51 314.78,294.71 315.19,294.79 315.59,294.45 316.00,295.14 316.50,295.33 317.00,296.35" fill="none" stroke="#222" stroke-width="1.5" stroke-linejoin="round" />
<polyline points="305.00,295.97 305.43,296.59 305.86,297.08 306.29,296.99 306.71,297.31 307.14,298.10 307.57,298.25 308.00,298.94 308.43,298.69 308.86,298.30 309.29,297.84 309.71,297.50 310.14,296.53 310.57,296.55 311.00,296.13 311.42,296.95 311.83,296.05 312.25,296.92 312.67,296.16 313.08,296.91 313.50,296.62 313.93,297.30 314.37,299.03 314.80,299.47 315.20,300.77 315.60,303.14 316.00,304.17 316.40,305.12 316.80,307.34 317.25,308.51 317.70,308.76 318.15,310.20 318.60,310.88 319.05,311.96 319.50,313.03 319.92,313.10 320.33,314.20 320.75,313.94 321.17,314.49 321.58,315.58 322.00,315.49 322.43,315.87 322.86,316.40 323.29,316.59 323.71,316.79 324.14,316.68 324.57,317.71 325.00,318.21 325.40,318.44 325.81,318.31 326.22,318.18 326.62,318.38 327.02,318.93 327.43,319.10 327.84,318.67 328.24,318.98 328.64,319.29 329.05,319.62 329.46,320.12 329.86,319.94 330.26,319.57 330.67,320.60 331.08,320.32 331.48,320.56 331.88,320.38 332.29,320.74 332.70,320.84 333.10,321.40 333.51,320.80 333.92,321.43 334.33,321.16 334.74,321.87 335.15,321.28 335.56,321.68 335.97,321.89 336.38,322.34 336.79,321.82 337.20,322.39 337.61,322.24 338.02,322.44 338.43,322.76 338.84,323.40 339.25,322.97 339.66,323.59 340.07,322.81 340.48,323.73 340.89,323.18 341.30,323.06 341.70,323.73 342.11,323.97 342.51,323.03 342.91,323.37 343.32,323.98 343.72,323.56 344.13,323.49 344.53,323.29 344.93,323.37 345.34,324.05 345.74,324.49 346.14,324.55 346.55,324.04 346.95,323.55 347.36,323.92 347.76,324.47 348.16,324.55 348.57,324.37 348.97,323.96 349.37,324.32 349.78,324.29 350.18,324.49 350.59,324.12 350.99,324.90 351.39,324.87 351.80,324.10 352.20,324.27 352.61,324.94 353.02,324.32 353.43,325.08 353.84,324.64 354.25,324.87 354.66,324.91 355.07,324.40 355.48,324.51 355.89,324.50 356.30,325.01 356.71,325.05 357.12,324.46 357.53,325.32 357.94,324.83 358.35,324.66 358.76,324.90 359.17,325.52 359.58,325.09 359.99,325.18 360.40,325.53 360.81,325.59 361.22,325.39 361.63,325.03 362.04,325.23 362.45,325.59 362.86,325.48 363.27,325.26 363.68,325.02 364.09,325.05 364.50,325.46 364.90,325.27 365.31,324.68 365.71,325.44 366.11,325.66 366.52,325.55 366.92,325.66 367.32,325.68 367.73,325.27 368.13,325.56 368.53,325.11 368.94,324.80 369.34,325.09 369.74,325.05 370.15,325.73 370.55,325.47 370.95,325.31 371.36,325.40 371.76,324.86 372.16,325.31 372.57,325.50 372.97,325.16 373.38,325.00 373.78,325.18 374.18,325.09 374.59,325.49 374.99,324.90 375.39,324.84 375.80,325.09 376.20,325.51 376.60,325.59 377.01,325.48 377.41,325.78 377.81,325.16 378.22,324.79 378.62,325.30 379.02,325.25 379.43,324.96 379.83,325.50 380.23,325.14 380.64,325.03 381.04,325.13 381.44,325.81 381.85,324.78 382.25,325.17 382.65,325.09 383.06,325.00 383.46,325.26 383.86,325.03 384.27,325.80 384.67,325.34 385.07,325.56 385.48,324.97 385.88,325.30 386.28,325.46 386.69,325.72 387.09,325.07 387.49,325.30 387.90,325.74 388.30,325.72 388.70,325.05 389.11,325.40 389.51,325.64 389.91,325.24 390.32,325.55 390.72,325.54 391.12,325.88 391.53,325.42 391.93,325.56 392.34,325.20 392.74,325.62 393.14,325.17 393.55,325.37 393.95,325.22 394.35,325.16 394.76,324.97 395.16,325.07 395.56,325.43 395.97,325.11 396.37,324.88 396.77,325.72 397.18,325.15 397.58,325.87 397.98,325.50 398.39,325.27 398.79,325.80 399.19,325.83 399.60,325.20 400.00,324.99 400.40,325.56 400.80,325.78 401.21,325.53 401.61,325.72 402.01,325.31 402.41,325.54 402.82,325.16 403.22,325.32 403.62,325.29 404.02,325.30 404.42,325.31 404.83,325.76 405.23,325.07 405.63,325.11 406.03,325.16 406.43,325.95 406.84,325.46 407.24,324.95 407.64,325.81 408.04,325.85 408.45,325.80 408.85,325.29 409.25,325.71 409.65,325.24 410.05,325.06 410.46,325.86 410.86,325.83 411.26,325.14 411.66,325.88 412.07,324.94 412.47,325.26 412.87,324.93 413.27,325.11 413.67,325.10 414.08,325.71 414.48,325.26 414.88,325.14 415.28,325.14 415.68,325.28 416.09,325.89 416.49,325.61 416.89,325.05 417.29,325.70 417.70,325.54 418.10,325.44 418.50,325.53 418.90,325.67 419.30,325.84 419.71,325.51 420.11,325.66 420.51,325.48 420.91,325.66 421.32,325.39 421.72,325.42 422.12,325.54 422.52,325.76 422.92,325.28 423.33,325.99 423.73,325.52 424.13,325.92 424.53,325.74 424.93,326.04 425.34,325.74 425.74,325.46 426.14,325.44 426.54,325.66 426.95,325.83 427.35,325.92 427.75,325.14 428.15,325.07 428.55,325.12 428.96,325.10 429.36,325.07 429.76,325.02 430.16,325.29 430.57,325.14 430.97,325.77 431.37,325.70 431.77,326.08 432.17,326.08 432.58,325.85 432.98,326.07 433.38,325.06 433.78,325.28 434.18,326.05 434.59,325.56 434.99,325.27 435.39,325.87 435.79,325.51 436.20,325.64 436.60,325.40 437.00,325.32" fill="none" stroke="#ff0000" stroke-width="2.0" stroke-linejoin="round" />
<polyline points="312.00,298.20 312.40,298.50 312.80,298.48 313.20,298.62 313.60,298.29 314.00,298.28 314.40,298.52 314.80,298.48 315.21,298.30 315.61,298.50 316.01,298.35 316.41,298.54 316.81,298.21 317.21,298.27 317.61,298.61 318.01,298.33 318.41,298.29 318.81,298.56 319.21,298.47 319.61,298.23 320.01,298.43 320.41,298.49 320.81,298.24 321.21,298.48 321.62,298.22 322.02,298.33 322.42,298.20 322.82,298.26 323.22,298.65 323.62,298.36 324.02,298.65 324.42,298.38 324.82,298.46 325.22,298.60 325.62,298.50 326.02,298.22 326.42,298.46 326.82,298.48 327.22,298.25 327.62,298.21 328.03,298.60 328.43,298.42 328.83,298.26 329.23,298.39 329.63,298.27 330.03,298.56 330.43,298.41 330.83,298.22 331.23,298.57 331.63,298.21 332.03,298.31 332.43,298.18 332.83,298.54 333.23,298.22 333.63,298.43 334.04,298.21 334.44,298.41 334.84,298.51 335.24,298.44 335.64,298.40 336.04,298.41 336.44,298.39 336.84,298.47 337.24,298.22 337.64,298.41 338.04,298.29 338.44,298.60 338.84,298.64 339.24,298.21 339.64,298.24 340.04,298.52 340.45,298.46 340.85,298.18 341.25,298.53 341.65,298.65 342.05,298.39 342.45,298.35 342.85,298.46 343.25,298.64 343.65,298.31 344.05,298.33 344.45,298.27 344.85,298.49 345.25,298.41 345.65,298.30 346.05,298.37 346.46,298.19 346.86,298.33 347.26,298.67 347.66,298.47 348.06,298.32 348.46,298.65 348.86,298.36 349.26,298.31 349.66,298.20 350.06,298.25 350.46,298.28 350.86,298.30 351.26,298.62 351.66,298.31 352.06,298.31 352.46,298.48 352.87,298.64 353.27,298.33 353.67,298.56 354.07,298.37 354.47,298.46 354.87,298.48 355.27,298.66 355.67,298.56 356.07,298.44 356.47,298.61 356.87,298.37 357.27,298.38 357.67,298.67 358.07,298.46 358.47,298.57 358.88,298.34 359.28,298.65 359.68,298.49 360.08,298.31 360.48,298.66 360.88,298.42 361.28,298.36 361.68,298.32 362.08,298.24 362.48,298.29 362.88,298.54 363.28,298.26 363.68,298.32 364.08,298.42 364.48,298.46 364.88,298.38 365.29,298.59 365.69,298.32 366.09,298.38 366.49,298.41 366.89,298.26 367.29,298.31 367.69,298.27 368.09,298.56 368.49,298.27 368.89,298.53 369.29,298.31 369.69,298.52 370.09,298.52 370.49,298.37 370.89,298.66 371.29,298.53 371.70,298.48 372.10,298.22 372.50,298.40 372.90,298.33 373.30,298.43 373.70,298.67 374.10,298.63 374.50,298.23 374.90,298.54 375.30,298.67 375.70,298.47 376.10,298.25 376.50,298.63 376.90,298.42 377.30,298.69 377.71,298.64 378.11,298.62 378.51,298.67 378.91,298.24 379.31,298.60 379.71,298.36 380.11,298.27 380.51,298.39 380.91,298.50 381.31,298.21 381.71,298.43 382.11,298.60 382.51,298.45 382.91,298.47 383.31,298.36 383.71,298.69 384.12,298.33 384.52,298.55 384.92,298.53 385.32,298.21 385.72,298.71 386.12,298.33 386.52,298.70 386.92,298.67 387.32,298.66 387.72,298.64 388.12,298.41 388.52,298.43 388.92,298.38 389.32,298.68 389.72,298.23 390.12,298.28 390.53,298.69 390.93,298.62 391.33,298.57 391.73,298.70 392.13,298.48 392.53,298.63 392.93,298.44 393.33,298.67 393.73,298.25 394.13,298.43 394.53,298.50 394.93,298.61 395.33,298.43 395.73,298.56 396.13,298.70 396.54,298.43 396.94,298.32 397.34,298.23 397.74,298.65 398.14,298.46 398.54,298.41 398.94,298.48 399.34,298.28 399.74,298.33 400.14,298.34 400.54,298.35 400.94,298.65 401.34,298.34 401.74,298.27 402.14,298.66 402.54,298.50 402.95,298.24 403.35,298.56 403.75,298.57 404.15,298.55 404.55,298.61 404.95,298.44 405.35,298.34 405.75,298.60 406.15,298.54 406.55,298.58 406.95,298.32 407.35,298.41 407.75,298.57 408.15,298.42 408.55,298.53 408.96,298.46 409.36,298.61 409.76,298.40 410.16,298.48 410.56,298.64 410.96,298.38 411.36,298.32 411.76,298.55 412.16,298.30 412.56,298.66 412.96,298.37 413.36,298.68 413.76,298.50 414.16,298.31 414.56,298.49 414.96,298.57 415.37,298.48 415.77,298.55 416.17,298.42 416.57,298.71 416.97,298.32 417.37,298.63 417.77,298.25 418.17,298.49 418.57,298.27 418.97,298.30 419.37,298.53 419.77,298.69 420.17,298.39 420.57,298.44 420.97,298.48 421.38,298.54 421.78,298.41 422.18,298.41 422.58,298.67 422.98,298.52 423.38,298.42 423.78,298.65 424.18,298.74 424.58,298.46 424.98,298.25 425.38,298.39 425.78,298.69 426.18,298.33 426.58,298.34 426.98,298.64 427.38,298.30 427.79,298.67 428.19,298.36 428.59,298.44 428.99,298.54 429.39,298.30 429.79,298.63 430.19,298.46 430.59,298.63 430.99,298.63 431.39,298.28 431.79,298.66 432.19,298.66 432.59,298.37 432.99,298.54 433.39,298.35 433.79,298.52 434.20,298.62 434.60,298.44 435.00,298.51 435.40,298.31 435.80,298.68 436.20,298.56 436.60,298.66 437.00,298.29" fill="none" stroke="#1a1a40" stroke-width="1.0" stroke-linejoin="round" />
<polyline points="305.00,296.06 305.41,296.41 305.82,296.52 306.24,296.73 306.65,296.45 307.06,296.60 307.47,296.68 307.88,296.85 308.29,297.28 308.71,297.03 309.12,297.38 309.53,297.30 309.94,297.44 310.35,297.60 310.76,297.91 311.18,297.82 311.59,297.50 312.00,297.67 312.40,297.59 312.80,298.03 313.20,297.99 313.60,297.99 314.00,298.00 314.40,297.96 314.80,298.08 315.21,297.99 315.61,297.67 316.01,298.03 316.41,297.81 316.81,297.97 317.21,297.86 317.61,297.78 318.01,297.74 318.41,297.78 318.81,297.72 319.21,297.60 319.61,298.02 320.01,298.01 320.41,298.13 320.81,297.95 321.21,297.87 321.62,297.99 322.02,297.62 322.42,297.95 322.82,297.81 323.22,297.65 323.62,297.67 324.02,297.86 324.42,297.70 324.82,297.83 325.22,297.92 325.62,297.79 326.02,297.63 326.42,297.85 326.82,297.70 327.22,297.70 327.62,297.68 328.03,297.78 328.43,297.61 328.83,297.95 329.23,298.14 329.63,297.80 330.03,298.00 330.43,298.13 330.83,297.60 331.23,297.66 331.63,298.06 332.03,298.08 332.43,297.96 332.83,297.67 333.23,297.82 333.63,298.10 334.04,298.11 334.44,298.06 334.84,297.70 335.24,298.09 335.64,297.81 336.04,298.01 336.44,297.67 336.84,298.17 337.24,297.95 337.64,298.02 338.04,297.72 338.44,297.96 338.84,297.94 339.24,297.95 339.64,297.81 340.04,298.03 340.45,297.80 340.85,297.77 341.25,297.70 341.65,298.01 342.05,297.67 342.45,297.73 342.85,297.64 343.25,297.99 343.65,297.94 344.05,297.93 344.45,297.63 344.85,297.87 345.25,297.81 345.65,297.66 346.05,297.61 346.46,298.21 346.86,297.68 347.26,297.79 347.66,297.77 348.06,297.97 348.46,297.66 348.86,297.89 349.26,297.83 349.66,298.11 350.06,297.62 350.46,297.82 350.86,297.91 351.26,298.20 351.66,297.93 352.06,297.90 352.46,298.02 352.87,297.80 353.27,297.64 353.67,297.92 354.07,298.17 354.47,298.06 354.87,297.78 355.27,298.03 355.67,298.13 356.07,297.78 356.47,297.98 356.87,297.84 357.27,297.77 357.67,297.80 358.07,297.75 358.47,297.84 358.88,297.65 359.28,297.87 359.68,297.68 360.08,298.08 360.48,297.99 360.88,297.63 361.28,298.10 361.68,297.75 362.08,297.92 362.48,297.97 362.88,297.83 363.28,297.81 363.68,297.90 364.08,297.72 364.48,298.15 364.88,297.70 365.29,298.13 365.69,297.77 366.09,297.82 366.49,297.87 366.89,297.66 367.29,297.72 367.69,297.86 368.09,297.90 368.49,298.17 368.89,298.23 369.29,297.67 369.69,297.96 370.09,297.72 370.49,298.12 370.89,297.84 371.29,298.18 371.70,297.97 372.10,297.72 372.50,297.65 372.90,297.79 373.30,298.17 373.70,297.73 374.10,297.93 374.50,297.87 374.90,297.85 375.30,298.13 375.70,297.77 376.10,298.08 376.50,298.05 376.90,298.21 377.30,297.96 377.71,298.20 378.11,297.91 378.51,297.99 378.91,298.02 379.31,298.15 379.71,298.19 380.11,297.72 380.51,297.73 380.91,297.97 381.31,298.14 381.71,297.97 382.11,297.83 382.51,298.23 382.91,297.83 383.31,297.70 383.71,297.68 384.12,297.67 384.52,298.09 384.92,297.72 385.32,298.08 385.72,298.17 386.12,298.25 386.52,298.14 386.92,297.91 387.32,298.03 387.72,298.16 388.12,298.09 388.52,297.83 388.92,298.11 389.32,297.72 389.72,297.84 390.12,298.25 390.53,297.94 390.93,297.82 391.33,298.13 391.73,297.93 392.13,297.66 392.53,297.68 392.93,297.81 393.33,297.86 393.73,298.22 394.13,297.81 394.53,298.17 394.93,298.17 395.33,297.91 395.73,298.26 396.13,298.12 396.54,297.95 396.94,297.82 397.34,297.94 397.74,298.20 398.14,297.98 398.54,297.78 398.94,297.89 399.34,297.95 399.74,297.78 400.14,298.01 400.54,297.68 400.94,298.16 401.34,297.77 401.74,297.73 402.14,298.02 402.54,297.85 402.95,298.20 403.35,297.96 403.75,297.98 404.15,298.17 404.55,297.79 404.95,298.11 405.35,298.06 405.75,297.92 406.15,298.24 406.55,297.68 406.95,298.19 407.35,297.75 407.75,298.17 408.15,297.76 408.55,297.70 408.96,297.97 409.36,298.23 409.76,297.82 410.16,297.96 410.56,298.04 410.96,297.82 411.36,297.99 411.76,297.68 412.16,297.94 412.56,298.13 412.96,297.88 413.36,297.80 413.76,297.70 414.16,298.09 414.56,297.93 414.96,298.22 415.37,298.12 415.77,297.73 416.17,298.22 416.57,298.23 416.97,298.17 417.37,298.17 417.77,298.09 418.17,298.11 418.57,298.08 418.97,298.03 419.37,297.83 419.77,297.76 420.17,298.11 420.57,298.04 420.97,297.71 421.38,298.06 421.78,298.05 422.18,297.99 422.58,298.15 422.98,298.21 423.38,297.91 423.78,298.17 424.18,297.98 424.58,298.03 424.98,297.93 425.38,298.24 425.78,297.95 426.18,298.26 426.58,297.89 426.98,298.09 427.38,298.23 427.79,298.10 428.19,297.91 428.59,297.73 428.99,297.98 429.39,297.94 429.79,298.18 430.19,298.16 430.59,298.28 430.99,297.96 431.39,297.94 431.79,298.03 432.19,298.14 432.59,297.74 432.99,297.82 433.39,297.78 433.79,297.89 434.20,297.88 434.60,298.28 435.00,297.82 435.40,298.26 435.80,297.87 436.20,297.82 436.60,298.28 437.00,297.75" fill="none" stroke="#36a636" stroke-width="1.3" stroke-linejoin="round" />
<rect x="0.5" y="0.5" width="519" height="366" fill="none" stroke="#000" stroke-width="1.2"/>
</svg>
</body></html>
